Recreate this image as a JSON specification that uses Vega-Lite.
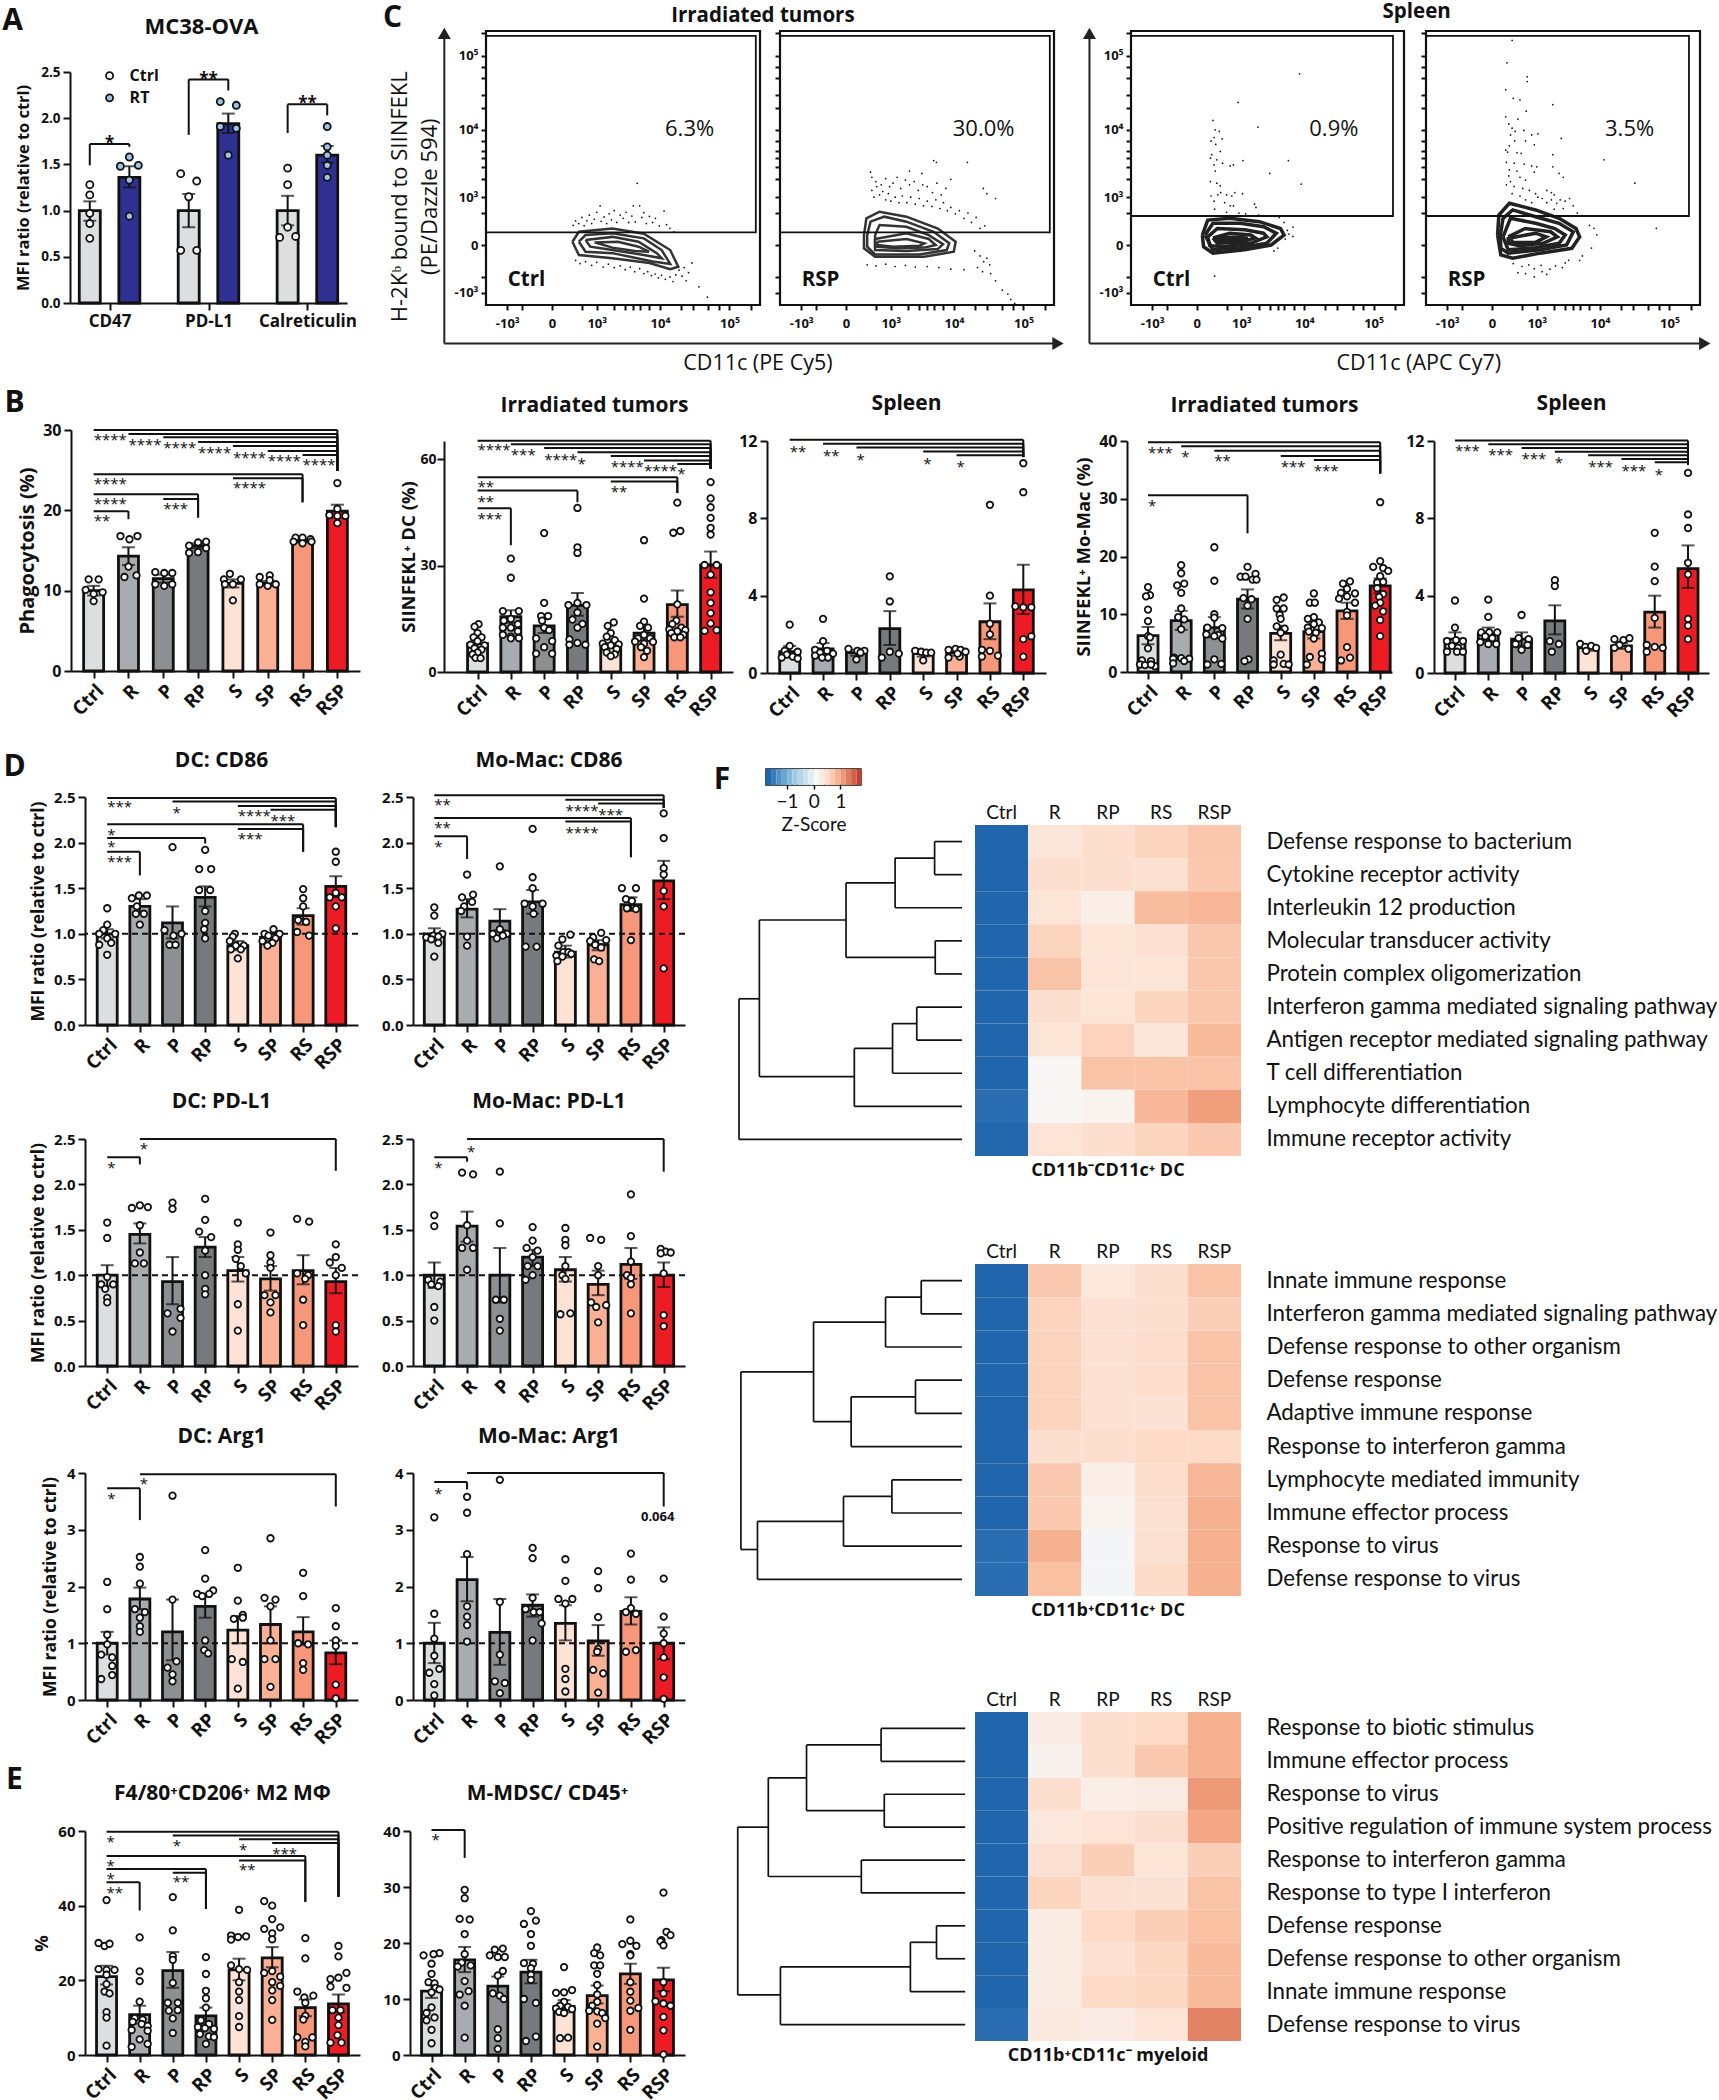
{"$schema":"https://vega.github.io/schema/vega-lite/v6.json","background":"white","padding":{"left":2,"top":0,"right":0,"bottom":0},"bounds":"flush","spacing":0,"resolve":{"scale":{"color":"independent","fill":"independent"}},
"config":{"view":{"stroke":null},"range":{"category":["#dcdee0","#8d8f93","#a8abaf","#77797c","#f6977a","#ed1c24","#fde3d5","#f9b094"]},"title":{"font":"Open Sans","fontWeight":"bold","fontSize":21,"color":"#111"},"text":{"font":"Open Sans","color":"#111"},"axis":{"grid":false,"domainColor":"#111","domainWidth":2,"tickColor":"#111","tickWidth":2,"tickSize":7,"labelFont":"Open Sans","labelFontWeight":"bold","labelFontSize":14,"labelColor":"#111","titleFont":"Open Sans","titleFontWeight":"bold","titleColor":"#111","labelOverlap":false,"labelBound":false,"labelFlush":false,"labelPadding":3},"axisX":{"labelAngle":-45,"labelFontSize":19},"axisY":{"titleBaseline":"middle"}},
"vconcat":[
{"bounds":"flush","spacing":0,"hconcat":[
{"bounds":"flush","spacing":0,"vconcat":[{"data":{"values":[{"t":"A"}]},"mark":{"type":"text","fontSize":30,"fontWeight":"bold","dx":-58,"dy":-31},"encoding":{"text":{"field":"t"}},"width":1,"height":41},
{"width":277,"height":231,"title":{"text":"MC38-OVA","offset":26,"dx":-7,"fontSize":22},"encoding":{"y":{"field":"v","type":"quantitative","scale":{"domain":[0,2.5],"nice":false},"axis":{"title":"MFI ratio (relative to ctrl)","titleX":-47,"titleFontSize":16.4,"labelFontSize":13.5,"format":".1f","values":[0,0.5,1,1.5,2,2.5]}}},"layer":[
{"data":{"values":[{"g":"CD47 Ctrl","s":"Ctrl","v":1,"lo":0.89,"hi":1.1},{"g":"CD47 RT","s":"RT","v":1.36,"lo":1.25,"hi":1.48},{"g":"PD-L1 Ctrl","s":"Ctrl","v":1,"lo":0.82,"hi":1.18},{"g":"PD-L1 RT","s":"RT","v":1.94,"lo":1.84,"hi":2.05},{"g":"Cal Ctrl","s":"Ctrl","v":1,"lo":0.84,"hi":1.16},{"g":"Cal RT","s":"RT","v":1.6,"lo":1.52,"hi":1.7}]},"encoding":{"x":{"field":"g","type":"nominal","scale":{"type":"point","padding":1.2,"domain":["CD47 Ctrl","CD47","CD47 RT","a1","a2","PD-L1 Ctrl","PD-L1","PD-L1 RT","a3","a4","Cal Ctrl","Calreticulin","Cal RT"]},"axis":{"title":null,"values":["CD47","PD-L1","Calreticulin"],"labelAngle":0,"labelFontSize":17}}},"layer":[
{"mark":{"type":"bar","size":21,"stroke":"#111","strokeWidth":2.8},"encoding":{"color":{"field":"s","type":"nominal","scale":{"domain":["Ctrl","RT"],"range":["#dcdee0","#2e3192"]},"legend":null}}},
{"mark":{"type":"rule","strokeWidth":2,"color":"#111"},"encoding":{"y":{"field":"lo","type":"quantitative"},"y2":{"field":"hi"}}},
{"mark":{"type":"tick","size":13,"thickness":2,"color":"#111"},"encoding":{"y":{"field":"hi","type":"quantitative"}}},
{"mark":{"type":"tick","size":13,"thickness":2,"color":"#111"},"encoding":{"y":{"field":"lo","type":"quantitative"}}}]},
{"data":{"values":[{"g":"CD47 Ctrl","s":"Ctrl","v":1.28,"j":0},{"g":"CD47 Ctrl","s":"Ctrl","v":1.17,"j":0},{"g":"CD47 Ctrl","s":"Ctrl","v":0.97,"j":0},{"g":"CD47 Ctrl","s":"Ctrl","v":0.86,"j":0},{"g":"CD47 Ctrl","s":"Ctrl","v":0.7,"j":0},{"g":"CD47 RT","s":"RT","v":1.58,"j":0},{"g":"CD47 RT","s":"RT","v":1.48,"j":-9},{"g":"CD47 RT","s":"RT","v":1.49,"j":9},{"g":"CD47 RT","s":"RT","v":1.33,"j":0},{"g":"CD47 RT","s":"RT","v":0.94,"j":0},{"g":"PD-L1 Ctrl","s":"Ctrl","v":1.4,"j":-8},{"g":"PD-L1 Ctrl","s":"Ctrl","v":1.32,"j":8},{"g":"PD-L1 Ctrl","s":"Ctrl","v":1.15,"j":0},{"g":"PD-L1 Ctrl","s":"Ctrl","v":0.57,"j":-8},{"g":"PD-L1 Ctrl","s":"Ctrl","v":0.57,"j":8},{"g":"PD-L1 RT","s":"RT","v":2.18,"j":-8},{"g":"PD-L1 RT","s":"RT","v":2.14,"j":8},{"g":"PD-L1 RT","s":"RT","v":1.91,"j":-8},{"g":"PD-L1 RT","s":"RT","v":1.89,"j":8},{"g":"PD-L1 RT","s":"RT","v":1.6,"j":0},{"g":"Cal Ctrl","s":"Ctrl","v":1.46,"j":0},{"g":"Cal Ctrl","s":"Ctrl","v":1.28,"j":0},{"g":"Cal Ctrl","s":"Ctrl","v":0.82,"j":0},{"g":"Cal Ctrl","s":"Ctrl","v":0.71,"j":-8},{"g":"Cal Ctrl","s":"Ctrl","v":0.72,"j":8},{"g":"Cal RT","s":"RT","v":1.91,"j":0},{"g":"Cal RT","s":"RT","v":1.69,"j":0},{"g":"Cal RT","s":"RT","v":1.6,"j":0},{"g":"Cal RT","s":"RT","v":1.49,"j":0},{"g":"Cal RT","s":"RT","v":1.36,"j":0}]},"mark":{"type":"point","filled":true,"stroke":"#111","strokeWidth":1.8,"size":50,"opacity":1},"encoding":{"x":{"field":"g","type":"nominal"},"xOffset":{"field":"j","type":"quantitative","scale":null},"fill":{"field":"s","type":"nominal","scale":{"domain":["Ctrl","RT"],"range":["#ffffff","#9dc3e6"]},"legend":null}}},
{"data":{"values":[{"a":"CD47 Ctrl","b":"CD47 RT","c":"CD47","y":1.72,"l":1.49,"r":1.69,"t":"*","ty":1.74},{"a":"PD-L1 Ctrl","b":"PD-L1 RT","c":"PD-L1","y":2.42,"l":1.82,"r":2.3,"t":"**","ty":2.44},{"a":"Cal Ctrl","b":"Cal RT","c":"Calreticulin","y":2.15,"l":1.84,"r":2.03,"t":"**","ty":2.17}]},"layer":[
{"mark":{"type":"rule","strokeWidth":2,"color":"#111"},"encoding":{"x":{"field":"a","type":"nominal"},"x2":{"field":"b"},"y":{"field":"y","type":"quantitative"}}},
{"mark":{"type":"rule","strokeWidth":2,"color":"#111"},"encoding":{"x":{"field":"a","type":"nominal"},"y":{"field":"y","type":"quantitative"},"y2":{"field":"l"}}},
{"mark":{"type":"rule","strokeWidth":2,"color":"#111"},"encoding":{"x":{"field":"b","type":"nominal"},"y":{"field":"y","type":"quantitative"},"y2":{"field":"r"}}},
{"mark":{"type":"text","fontSize":17,"fontWeight":"bold","dy":2},"encoding":{"x":{"field":"c","type":"nominal"},"y":{"field":"ty","type":"quantitative"},"text":{"field":"t"}}}]},
{"data":{"values":[{"s":"Ctrl","v":2.46,"c":"CD47"},{"s":"RT","v":2.22,"c":"CD47"}]},"layer":[
{"mark":{"type":"point","filled":true,"stroke":"#111","strokeWidth":1.8,"size":50,"opacity":1},"encoding":{"x":{"field":"c","type":"nominal"},"fill":{"field":"s","type":"nominal","legend":null}}},
{"mark":{"type":"text","align":"left","fontSize":16,"fontWeight":"bold","dx":20},"encoding":{"x":{"field":"c","type":"nominal"},"text":{"field":"s"}}}]}
]}]},
{"data":{"values":[]},"mark":{"type":"point","opacity":0},"width":416,"height":1},
{"width":274,"height":274,"view":{"stroke":"#111","strokeWidth":2.2},"encoding":{"x":{"field":"x","type":"quantitative","scale":{"type":"symlog","constant":300,"domain":[-2310,273000],"nice":false},"axis":{"title":null,"domain":false,"labelAngle":0,"labelFontSize":13,"tickSize":5,"labelPadding":7,"values":[-1000,-500,0,500,1000,2000,3000,4000,5000,7000,10000,20000,30000,50000,70000,100000,200000],"labelExpr":"datum.value==1000?'10³':datum.value==10000?'10⁴':datum.value==100000?'10⁵':datum.value==-1000?'-10³':datum.value==0?'0':''"}},"y":{"field":"y","type":"quantitative","scale":{"type":"symlog","constant":300,"domain":[-1590,213000],"nice":false},"axis":{"title":null,"domain":false,"labelFontSize":13,"tickSize":5,"values":[-1000,-500,0,500,1000,2000,3000,4000,5000,7000,10000,20000,30000,50000,70000,100000,200000],"labelExpr":"datum.value==1000?'10³':datum.value==10000?'10⁴':datum.value==100000?'10⁵':datum.value==-1000?'-10³':datum.value==0?'0':''"}}},"layer":[
{"data":{"values":[{"x":-9930,"y":-5850,"x2":-9930,"y2":198000},{"x":-9930,"y":-5850,"x2":4750000000,"y2":-5850}]},"mark":{"type":"rule","strokeWidth":2,"color":"#222"},"encoding":{"x2":{"field":"x2"},"y2":{"field":"y2"}}},
{"data":{"values":[{"x":-9930,"y":198000}]},"mark":{"type":"point","shape":"triangle-up","filled":true,"size":170,"color":"#222","opacity":1}},
{"data":{"values":[{"x":4750000000,"y":-5850}]},"mark":{"type":"point","shape":"triangle-right","filled":true,"size":170,"color":"#222","opacity":1}},
{"data":{"values":[{"c":1,"x":285,"y":32},{"c":1,"x":423,"y":150},{"c":1,"x":1870,"y":198},{"c":1,"x":5770,"y":125},{"c":1,"x":14100,"y":-50},{"c":1,"x":18500,"y":-285},{"c":1,"x":14100,"y":-330},{"c":1,"x":7000,"y":-220},{"c":1,"x":1870,"y":-150},{"c":1,"x":423,"y":-107},{"c":1,"x":285,"y":32},{"c":2,"x":423,"y":32},{"c":2,"x":600,"y":107},{"c":2,"x":1870,"y":131},{"c":2,"x":5770,"y":68},{"c":2,"x":10600,"y":-50},{"c":2,"x":14100,"y":-235},{"c":2,"x":7840,"y":-198},{"c":2,"x":1870,"y":-85},{"c":2,"x":600,"y":-68},{"c":2,"x":423,"y":32},{"c":3,"x":600,"y":50},{"c":3,"x":1870,"y":85},{"c":3,"x":4800,"y":32},{"c":3,"x":9000,"y":-85},{"c":3,"x":10600,"y":-150},{"c":3,"x":5770,"y":-107},{"c":3,"x":1870,"y":-50},{"c":3,"x":750,"y":-16},{"c":3,"x":600,"y":50},{"c":4,"x":909,"y":25},{"c":4,"x":2300,"y":32},{"c":4,"x":4800,"y":-16},{"c":4,"x":6900,"y":-68},{"c":4,"x":4220,"y":-60},{"c":4,"x":1870,"y":-25},{"c":4,"x":909,"y":25}]},"transform":[{"window":[{"op":"row_number","as":"i"}]}],"mark":{"type":"line","color":"#333","strokeWidth":2.5},"encoding":{"detail":{"field":"c"},"order":{"field":"i","type":"quantitative"}}},
{"data":{"values":[{"x":300,"y":250},{"x":350,"y":330},{"x":420,"y":280},{"x":500,"y":400},{"x":560,"y":240},{"x":640,"y":330},{"x":720,"y":450},{"x":800,"y":280},{"x":900,"y":360},{"x":1000,"y":520},{"x":1150,"y":700},{"x":1200,"y":320},{"x":1350,"y":410},{"x":1500,"y":280},{"x":1650,"y":480},{"x":1800,"y":350},{"x":2000,"y":560},{"x":2200,"y":300},{"x":2500,"y":453},{"x":2800,"y":380},{"x":3100,"y":520},{"x":3400,"y":300},{"x":3800,"y":430},{"x":4000,"y":700},{"x":4300,"y":310},{"x":4600,"y":1690},{"x":5000,"y":700},{"x":5400,"y":400},{"x":5770,"y":510},{"x":6300,"y":280},{"x":7000,"y":420},{"x":7800,"y":300},{"x":8600,"y":380},{"x":9800,"y":240},{"x":11500,"y":550},{"x":12500,"y":260},{"x":14000,"y":200},{"x":16000,"y":150},{"x":350,"y":-180},{"x":450,"y":-230},{"x":600,"y":-200},{"x":800,"y":-260},{"x":1000,"y":-210},{"x":1300,"y":-290},{"x":1600,"y":-240},{"x":2000,"y":-300},{"x":2500,"y":-270},{"x":3000,"y":-340},{"x":3600,"y":-290},{"x":4200,"y":-380},{"x":5000,"y":-320},{"x":5800,"y":-420},{"x":6600,"y":-380},{"x":7500,"y":-470},{"x":8500,"y":-430},{"x":9500,"y":-520},{"x":10500,"y":-460},{"x":12000,"y":-560},{"x":14000,"y":-500},{"x":15500,"y":-620},{"x":17000,"y":-450},{"x":19000,"y":-350},{"x":21000,"y":-480},{"x":22500,"y":-300},{"x":24000,"y":-600},{"x":26000,"y":-400},{"x":29000,"y":-220},{"x":36700,"y":-780},{"x":48500,"y":-1180},{"x":55000,"y":-1590}]},"mark":{"type":"point","filled":true,"size":3,"color":"#111","opacity":1}},
{"data":{"values":[{"x":-2310,"x2":238000,"y":142,"y2":183000}]},"mark":{"type":"rect","filled":false,"stroke":"#111","strokeWidth":1.8},"encoding":{"x2":{"field":"x2"},"y2":{"field":"y2"}}},
{"data":{"values":[{"x":26900,"y":10350,"t":"6.3%"}]},"mark":{"type":"text","fontSize":22},"encoding":{"text":{"field":"t"}}},
{"data":{"values":[{"x":-980,"y":-565,"t":"Ctrl"}]},"mark":{"type":"text","fontSize":20.5,"fontWeight":"bold","align":"left"},"encoding":{"text":{"field":"t"}}},
{"data":{"values":[{"x":300000,"y":342000,"t":"Irradiated tumors"}]},"mark":{"type":"text","fontSize":20.5,"fontWeight":"bold"},"encoding":{"text":{"field":"t"}}},
{"data":{"values":[{"x":255000,"y":-11100,"t":"CD11c (PE Cy5)"}]},"mark":{"type":"text","fontSize":21.5},"encoding":{"text":{"field":"t"}}},
{"data":{"values":[{"x":-44000,"y":1020,"t":"H-2Kᵇ bound to SIINFEKL"},{"x":-16200,"y":1020,"t":"(PE/Dazzle 594)"}]},"mark":{"type":"text","fontSize":22,"angle":270},"encoding":{"text":{"field":"t"}}},
{"data":{"values":[{"x":-55500,"y":314000,"t":"C"}]},"mark":{"type":"text","fontSize":30,"fontWeight":"bold"},"encoding":{"text":{"field":"t"}}}
]},
{"data":{"values":[]},"mark":{"type":"point","opacity":0},"width":20,"height":1},
{"width":274,"height":274,"view":{"stroke":"#111","strokeWidth":2.2},"encoding":{"x":{"field":"x","type":"quantitative","scale":{"type":"symlog","constant":300,"domain":[-2310,273000],"nice":false},"axis":{"title":null,"domain":false,"labelAngle":0,"labelFontSize":13,"tickSize":5,"labelPadding":7,"values":[-1000,-500,0,500,1000,2000,3000,4000,5000,7000,10000,20000,30000,50000,70000,100000,200000],"labelExpr":"datum.value==1000?'10³':datum.value==10000?'10⁴':datum.value==100000?'10⁵':datum.value==-1000?'-10³':datum.value==0?'0':''"}},"y":{"field":"y","type":"quantitative","scale":{"type":"symlog","constant":300,"domain":[-1590,213000],"nice":false},"axis":{"title":null,"domain":false,"labels":false,"tickSize":5,"values":[-1000,-500,0,500,1000,2000,3000,4000,5000,7000,10000,20000,30000,50000,70000,100000,200000]}}},"layer":[
{"data":{"values":[{"c":1,"x":240,"y":107},{"c":1,"x":285,"y":380},{"c":1,"x":600,"y":533},{"c":1,"x":1870,"y":416},{"c":1,"x":5770,"y":198},{"c":1,"x":10600,"y":32},{"c":1,"x":9950,"y":-68},{"c":1,"x":3600,"y":-131},{"c":1,"x":477,"y":-131},{"c":1,"x":240,"y":-32},{"c":1,"x":240,"y":107},{"c":2,"x":300,"y":107},{"c":2,"x":370,"y":314},{"c":2,"x":750,"y":416},{"c":2,"x":1870,"y":314},{"c":2,"x":5000,"y":150},{"c":2,"x":8500,"y":16},{"c":2,"x":7840,"y":-50},{"c":2,"x":3040,"y":-100},{"c":2,"x":477,"y":-100},{"c":2,"x":300,"y":-16},{"c":2,"x":300,"y":107},{"c":3,"x":477,"y":107},{"c":3,"x":600,"y":255},{"c":3,"x":1870,"y":225},{"c":3,"x":4220,"y":107},{"c":3,"x":6900,"y":8},{"c":3,"x":5770,"y":-40},{"c":3,"x":1870,"y":-60},{"c":3,"x":477,"y":-50},{"c":3,"x":477,"y":107},{"c":4,"x":477,"y":61},{"c":4,"x":1870,"y":131},{"c":4,"x":4220,"y":61},{"c":4,"x":5350,"y":0},{"c":4,"x":3600,"y":-25},{"c":4,"x":1300,"y":-32},{"c":4,"x":477,"y":-16},{"c":4,"x":477,"y":61},{"c":5,"x":537,"y":32},{"c":5,"x":1870,"y":61},{"c":5,"x":3600,"y":16},{"c":5,"x":3040,"y":-6},{"c":5,"x":1100,"y":-16},{"c":5,"x":537,"y":0},{"c":5,"x":537,"y":32}]},"transform":[{"window":[{"op":"row_number","as":"i"}]}],"mark":{"type":"line","color":"#333","strokeWidth":2.5},"encoding":{"detail":{"field":"c"},"order":{"field":"i","type":"quantitative"}}},
{"data":{"values":[{"x":370,"y":2500},{"x":2100,"y":2600},{"x":3300,"y":2400},{"x":5000,"y":3700},{"x":5500,"y":3500},{"x":15700,"y":3500},{"x":9000,"y":1950},{"x":26700,"y":1400},{"x":30000,"y":1150},{"x":40000,"y":950},{"x":400,"y":2100},{"x":500,"y":1800},{"x":650,"y":1600},{"x":800,"y":2000},{"x":950,"y":1500},{"x":1100,"y":1700},{"x":1300,"y":2100},{"x":1500,"y":1400},{"x":1800,"y":1900},{"x":2100,"y":1600},{"x":2500,"y":1800},{"x":2900,"y":1300},{"x":3400,"y":1600},{"x":4000,"y":1500},{"x":4800,"y":1200},{"x":5600,"y":1700},{"x":6500,"y":1100},{"x":7600,"y":1400},{"x":400,"y":1300},{"x":450,"y":1000},{"x":520,"y":1500},{"x":600,"y":1100},{"x":700,"y":1250},{"x":800,"y":900},{"x":900,"y":1150},{"x":1000,"y":850},{"x":1200,"y":1000},{"x":1400,"y":800},{"x":1600,"y":1050},{"x":1900,"y":800},{"x":2200,"y":1000},{"x":2600,"y":750},{"x":3000,"y":950},{"x":3500,"y":700},{"x":4000,"y":850},{"x":4700,"y":680},{"x":5400,"y":900},{"x":6200,"y":620},{"x":7000,"y":800},{"x":8000,"y":560},{"x":9000,"y":650},{"x":10500,"y":480},{"x":12000,"y":560},{"x":14000,"y":380},{"x":16000,"y":500},{"x":18000,"y":300},{"x":21000,"y":400},{"x":24000,"y":200},{"x":28000,"y":240},{"x":20000,"y":-60},{"x":24000,"y":-120},{"x":27000,"y":-200},{"x":22000,"y":-300},{"x":30000,"y":-150},{"x":33000,"y":-250},{"x":26000,"y":-380},{"x":34000,"y":-420},{"x":40000,"y":-600},{"x":50000,"y":-900},{"x":60000,"y":-1050},{"x":66000,"y":-1300},{"x":75000,"y":-1500},{"x":300,"y":-250},{"x":500,"y":-270},{"x":800,"y":-240},{"x":1200,"y":-280},{"x":1800,"y":-260},{"x":2600,"y":-290},{"x":4000,"y":-280},{"x":6000,"y":-300},{"x":9000,"y":-330},{"x":14000,"y":-340}]},"mark":{"type":"point","filled":true,"size":3,"color":"#111","opacity":1}},
{"data":{"values":[{"x":-2310,"x2":238000,"y":142,"y2":183000}]},"mark":{"type":"rect","filled":false,"stroke":"#111","strokeWidth":1.8},"encoding":{"x2":{"field":"x2"},"y2":{"field":"y2"}}},
{"data":{"values":[{"x":26900,"y":10350,"t":"30.0%"}]},"mark":{"type":"text","fontSize":22},"encoding":{"text":{"field":"t"}}},
{"data":{"values":[{"x":-980,"y":-565,"t":"RSP"}]},"mark":{"type":"text","fontSize":20.5,"fontWeight":"bold","align":"left"},"encoding":{"text":{"field":"t"}}}
]},
{"data":{"values":[]},"mark":{"type":"point","opacity":0},"width":77,"height":1},
{"width":273,"height":274,"view":{"stroke":"#111","strokeWidth":2.2},"encoding":{"x":{"field":"x","type":"quantitative","scale":{"type":"symlog","constant":300,"domain":[-2310,273000],"nice":false},"axis":{"title":null,"domain":false,"labelAngle":0,"labelFontSize":13,"tickSize":5,"labelPadding":7,"values":[-1000,-500,0,500,1000,2000,3000,4000,5000,7000,10000,20000,30000,50000,70000,100000,200000],"labelExpr":"datum.value==1000?'10³':datum.value==10000?'10⁴':datum.value==100000?'10⁵':datum.value==-1000?'-10³':datum.value==0?'0':''"}},"y":{"field":"y","type":"quantitative","scale":{"type":"symlog","constant":300,"domain":[-1590,213000],"nice":false},"axis":{"title":null,"domain":false,"labelFontSize":13,"tickSize":5,"values":[-1000,-500,0,500,1000,2000,3000,4000,5000,7000,10000,20000,30000,50000,70000,100000,200000],"labelExpr":"datum.value==1000?'10³':datum.value==10000?'10⁴':datum.value==100000?'10⁵':datum.value==-1000?'-10³':datum.value==0?'0':''"}}},"layer":[
{"data":{"values":[{"x":-9930,"y":-5850,"x2":-9930,"y2":198000},{"x":-9930,"y":-5850,"x2":5400000000,"y2":-5850}]},"mark":{"type":"rule","strokeWidth":2,"color":"#222"},"encoding":{"x2":{"field":"x2"},"y2":{"field":"y2"}}},
{"data":{"values":[{"x":-9930,"y":198000}]},"mark":{"type":"point","shape":"triangle-up","filled":true,"size":170,"color":"#222","opacity":1}},
{"data":{"values":[{"x":5400000000,"y":-5850}]},"mark":{"type":"point","shape":"triangle-right","filled":true,"size":170,"color":"#222","opacity":1}},
{"data":{"values":[{"c":1,"x":60,"y":107},{"c":1,"x":130,"y":345},{"c":1,"x":590,"y":380},{"c":1,"x":2050,"y":314},{"c":1,"x":4400,"y":198},{"c":1,"x":5000,"y":107},{"c":1,"x":3150,"y":0},{"c":1,"x":1150,"y":-48},{"c":1,"x":210,"y":-85},{"c":1,"x":75,"y":-16},{"c":1,"x":60,"y":107},{"c":2,"x":95,"y":107},{"c":2,"x":210,"y":285},{"c":2,"x":950,"y":285},{"c":2,"x":2400,"y":225},{"c":2,"x":3800,"y":131},{"c":2,"x":2700,"y":16},{"c":2,"x":950,"y":-25},{"c":2,"x":210,"y":-48},{"c":2,"x":95,"y":107},{"c":3,"x":130,"y":85},{"c":3,"x":290,"y":198},{"c":3,"x":1150,"y":178},{"c":3,"x":2400,"y":131},{"c":3,"x":2700,"y":85},{"c":3,"x":1470,"y":16},{"c":3,"x":450,"y":-16},{"c":3,"x":160,"y":-6},{"c":3,"x":130,"y":85},{"c":4,"x":210,"y":73},{"c":4,"x":590,"y":131},{"c":4,"x":1470,"y":107},{"c":4,"x":1750,"y":73},{"c":4,"x":950,"y":25},{"c":4,"x":290,"y":16},{"c":4,"x":210,"y":73},{"c":5,"x":250,"y":73},{"c":5,"x":950,"y":85},{"c":5,"x":1300,"y":68},{"c":5,"x":590,"y":40},{"c":5,"x":290,"y":40},{"c":5,"x":250,"y":73}]},"transform":[{"window":[{"op":"row_number","as":"i"}]}],"mark":{"type":"line","color":"#222","strokeWidth":3.5},"encoding":{"detail":{"field":"c"},"order":{"field":"i","type":"quantitative"}}},
{"data":{"values":[{"x":8500,"y":57000},{"x":870,"y":23500},{"x":1950,"y":10900},{"x":210,"y":13400},{"x":250,"y":10000},{"x":330,"y":9500},{"x":230,"y":7800},{"x":390,"y":7500},{"x":180,"y":7000},{"x":260,"y":6300},{"x":350,"y":5000},{"x":190,"y":4500},{"x":170,"y":4000},{"x":280,"y":3800},{"x":230,"y":3200},{"x":1070,"y":3700},{"x":5800,"y":3700},{"x":400,"y":3400},{"x":600,"y":3100},{"x":700,"y":3200},{"x":3000,"y":2400},{"x":9000,"y":1650},{"x":250,"y":2600},{"x":170,"y":1800},{"x":280,"y":1700},{"x":350,"y":1550},{"x":180,"y":1050},{"x":300,"y":1100},{"x":360,"y":1200},{"x":500,"y":1100},{"x":650,"y":1050},{"x":750,"y":1200},{"x":1050,"y":1150},{"x":450,"y":800},{"x":230,"y":850},{"x":600,"y":700},{"x":700,"y":700},{"x":1700,"y":750},{"x":1800,"y":650},{"x":240,"y":600},{"x":500,"y":520},{"x":900,"y":500},{"x":1200,"y":480},{"x":2000,"y":450},{"x":3600,"y":420},{"x":4200,"y":400},{"x":5000,"y":300},{"x":4700,"y":170},{"x":5600,"y":170},{"x":6800,"y":220},{"x":5900,"y":120},{"x":6800,"y":90},{"x":5200,"y":60},{"x":4000,"y":-30},{"x":3500,"y":-60},{"x":240,"y":-480}]},"mark":{"type":"point","filled":true,"size":3,"color":"#111","opacity":1}},
{"data":{"values":[{"x":-2310,"x2":190000,"y":431,"y2":183000}]},"mark":{"type":"rect","filled":false,"stroke":"#111","strokeWidth":1.8},"encoding":{"x2":{"field":"x2"},"y2":{"field":"y2"}}},
{"data":{"values":[{"x":26900,"y":10350,"t":"0.9%"}]},"mark":{"type":"text","fontSize":22},"encoding":{"text":{"field":"t"}}},
{"data":{"values":[{"x":-980,"y":-565,"t":"Ctrl"}]},"mark":{"type":"text","fontSize":20.5,"fontWeight":"bold","align":"left"},"encoding":{"text":{"field":"t"}}},
{"data":{"values":[{"x":414000,"y":386000,"t":"Spleen"}]},"mark":{"type":"text","fontSize":20.5,"fontWeight":"bold"},"encoding":{"text":{"field":"t"}}},
{"data":{"values":[{"x":444000,"y":-11100,"t":"CD11c (APC Cy7)"}]},"mark":{"type":"text","fontSize":21.5},"encoding":{"text":{"field":"t"}}}
]},
{"data":{"values":[]},"mark":{"type":"point","opacity":0},"width":22,"height":1},
{"width":274,"height":274,"view":{"stroke":"#111","strokeWidth":2.2},"encoding":{"x":{"field":"x","type":"quantitative","scale":{"type":"symlog","constant":300,"domain":[-2310,273000],"nice":false},"axis":{"title":null,"domain":false,"labelAngle":0,"labelFontSize":13,"tickSize":5,"labelPadding":7,"values":[-1000,-500,0,500,1000,2000,3000,4000,5000,7000,10000,20000,30000,50000,70000,100000,200000],"labelExpr":"datum.value==1000?'10³':datum.value==10000?'10⁴':datum.value==100000?'10⁵':datum.value==-1000?'-10³':datum.value==0?'0':''"}},"y":{"field":"y","type":"quantitative","scale":{"type":"symlog","constant":300,"domain":[-1590,213000],"nice":false},"axis":{"title":null,"domain":false,"labels":false,"tickSize":5,"values":[-1000,-500,0,500,1000,2000,3000,4000,5000,7000,10000,20000,30000,50000,70000,100000,200000]}}},"layer":[
{"data":{"values":[{"c":1,"x":60,"y":107},{"c":1,"x":75,"y":453},{"c":1,"x":230,"y":780},{"c":1,"x":950,"y":580},{"c":1,"x":2400,"y":380},{"c":1,"x":4400,"y":198},{"c":1,"x":5000,"y":85},{"c":1,"x":3800,"y":-32},{"c":1,"x":1150,"y":-85},{"c":1,"x":290,"y":-150},{"c":1,"x":100,"y":-107},{"c":1,"x":60,"y":107},{"c":2,"x":95,"y":107},{"c":2,"x":130,"y":380},{"c":2,"x":290,"y":580},{"c":2,"x":950,"y":415},{"c":2,"x":2400,"y":285},{"c":2,"x":4000,"y":150},{"c":2,"x":3150,"y":0},{"c":2,"x":1150,"y":-48},{"c":2,"x":210,"y":-85},{"c":2,"x":100,"y":-32},{"c":2,"x":95,"y":107},{"c":3,"x":130,"y":85},{"c":3,"x":250,"y":380},{"c":3,"x":950,"y":285},{"c":3,"x":2050,"y":198},{"c":3,"x":3000,"y":107},{"c":3,"x":2400,"y":16},{"c":3,"x":950,"y":-25},{"c":3,"x":210,"y":-48},{"c":3,"x":130,"y":85},{"c":4,"x":210,"y":85},{"c":4,"x":590,"y":198},{"c":4,"x":1750,"y":150},{"c":4,"x":2250,"y":85},{"c":4,"x":1300,"y":16},{"c":4,"x":450,"y":-6},{"c":4,"x":210,"y":16},{"c":4,"x":210,"y":85},{"c":5,"x":250,"y":73},{"c":5,"x":950,"y":131},{"c":5,"x":1470,"y":85},{"c":5,"x":950,"y":25},{"c":5,"x":290,"y":25},{"c":5,"x":250,"y":73}]},"transform":[{"window":[{"op":"row_number","as":"i"}]}],"mark":{"type":"line","color":"#222","strokeWidth":3.5},"encoding":{"detail":{"field":"c"},"order":{"field":"i","type":"quantitative"}}},
{"data":{"values":[{"x":280,"y":160000},{"x":190,"y":80000},{"x":650,"y":52000},{"x":650,"y":45000},{"x":170,"y":35000},{"x":300,"y":26700},{"x":450,"y":25500},{"x":1900,"y":21900},{"x":620,"y":17900},{"x":170,"y":15000},{"x":400,"y":14000},{"x":220,"y":12000},{"x":280,"y":10500},{"x":340,"y":9500},{"x":550,"y":9800},{"x":250,"y":8500},{"x":800,"y":8500},{"x":1050,"y":8800},{"x":2600,"y":7600},{"x":330,"y":7000},{"x":600,"y":7000},{"x":230,"y":6000},{"x":900,"y":6200},{"x":170,"y":5200},{"x":200,"y":4900},{"x":380,"y":4800},{"x":480,"y":4700},{"x":1900,"y":4500},{"x":11500,"y":3800},{"x":180,"y":3500},{"x":320,"y":3400},{"x":560,"y":3300},{"x":800,"y":3100},{"x":1000,"y":3000},{"x":1900,"y":3000},{"x":230,"y":2700},{"x":380,"y":2600},{"x":2400,"y":2400},{"x":900,"y":2500},{"x":220,"y":2200},{"x":450,"y":2100},{"x":600,"y":1900},{"x":2800,"y":2100},{"x":32000,"y":1700},{"x":250,"y":1800},{"x":180,"y":1600},{"x":320,"y":1500},{"x":520,"y":1400},{"x":720,"y":1300},{"x":950,"y":1150},{"x":1500,"y":1300},{"x":1800,"y":1200},{"x":2000,"y":1100},{"x":280,"y":1150},{"x":450,"y":1050},{"x":600,"y":900},{"x":800,"y":800},{"x":1050,"y":1000},{"x":1250,"y":950},{"x":1500,"y":800},{"x":1800,"y":900},{"x":2200,"y":780},{"x":2500,"y":900},{"x":3000,"y":850},{"x":3500,"y":950},{"x":4000,"y":700},{"x":4600,"y":500},{"x":5500,"y":440},{"x":2800,"y":620},{"x":2000,"y":600},{"x":7000,"y":250},{"x":8200,"y":200},{"x":9000,"y":110},{"x":7500,"y":-30},{"x":5500,"y":-120},{"x":5000,"y":-180},{"x":65000,"y":200},{"x":300,"y":-230},{"x":500,"y":-280},{"x":700,"y":-250},{"x":900,"y":-320},{"x":1200,"y":-260},{"x":1700,"y":-330},{"x":2100,"y":-270},{"x":2700,"y":-300},{"x":400,"y":-400},{"x":600,"y":-420},{"x":900,"y":-500},{"x":1250,"y":-380},{"x":1500,"y":-440},{"x":3000,"y":-220},{"x":3400,"y":-180}]},"mark":{"type":"point","filled":true,"size":3,"color":"#111","opacity":1}},
{"data":{"values":[{"x":-2310,"x2":190000,"y":431,"y2":183000}]},"mark":{"type":"rect","filled":false,"stroke":"#111","strokeWidth":1.8},"encoding":{"x2":{"field":"x2"},"y2":{"field":"y2"}}},
{"data":{"values":[{"x":26900,"y":10350,"t":"3.5%"}]},"mark":{"type":"text","fontSize":22},"encoding":{"text":{"field":"t"}}},
{"data":{"values":[{"x":-980,"y":-565,"t":"RSP"}]},"mark":{"type":"text","fontSize":20.5,"fontWeight":"bold","align":"left"},"encoding":{"text":{"field":"t"}}}
]}
]},
{"data":{"values":[]},"mark":{"type":"point","opacity":0},"width":1,"height":399},
{"bounds":"flush","spacing":0,"hconcat":[
{"data":{"values":[{"t":"B"}]},"mark":{"type":"text","fontSize":30,"fontWeight":"bold","dx":-56,"dy":-28},"encoding":{"text":{"field":"t"}},"width":1,"height":1},
{"width":289,"height":241,"encoding":{"y":{"field":"v","type":"quantitative","scale":{"domain":[0,30],"nice":false},"axis":{"title":"Phagocytosis (%)","titleX":-44,"titleFontSize":20,"labelFontSize":16,"values":[0,10,20,30]}}},"layer":[
{"data":{"values":[{"g":"Ctrl","v":10,"lo":9.4,"hi":10.6},{"g":"R","v":14.3,"lo":13.2,"hi":15.4},{"g":"P","v":11.5,"lo":11,"hi":12},{"g":"RP","v":15.6,"lo":15.3,"hi":15.9},{"g":"S","v":10.9,"lo":10.4,"hi":11.4},{"g":"SP","v":10.9,"lo":10.6,"hi":11.2},{"g":"RS","v":16.2,"lo":16,"hi":16.4},{"g":"RSP","v":19.9,"lo":19.1,"hi":20.7}]},"encoding":{"x":{"field":"g","type":"nominal","scale":{"type":"point","padding":0.65,"domain":["Ctrl","R","P","RP","S","SP","RS","RSP"]},"axis":{"title":null}}},"layer":[
{"mark":{"type":"bar","size":20,"stroke":"#111","strokeWidth":2.8},"encoding":{"color":{"field":"g","type":"nominal","legend":null}}},
{"mark":{"type":"rule","strokeWidth":2,"color":"#111"},"encoding":{"y":{"field":"lo","type":"quantitative"},"y2":{"field":"hi"}}},
{"mark":{"type":"tick","size":13,"thickness":2,"color":"#111"},"encoding":{"y":{"field":"hi","type":"quantitative"}}},
{"mark":{"type":"tick","size":13,"thickness":2,"color":"#111"},"encoding":{"y":{"field":"lo","type":"quantitative"}}}]},
{"data":{"values":[{"g":"Ctrl","v":11.4,"j":-5},{"g":"Ctrl","v":11.4,"j":5},{"g":"Ctrl","v":10.1,"j":-8},{"g":"Ctrl","v":9.8,"j":9},{"g":"Ctrl","v":9.6,"j":0},{"g":"Ctrl","v":8.7,"j":0},{"g":"R","v":16.8,"j":-8},{"g":"R","v":16.4,"j":1},{"g":"R","v":16.8,"j":9},{"g":"R","v":13,"j":0},{"g":"R","v":11.9,"j":8},{"g":"R","v":11.7,"j":-4},{"g":"P","v":12.3,"j":-8},{"g":"P","v":12.2,"j":1},{"g":"P","v":12.2,"j":9},{"g":"P","v":10.8,"j":-8},{"g":"P","v":10.6,"j":1},{"g":"P","v":10.8,"j":9},{"g":"RP","v":15.6,"j":-9},{"g":"RP","v":16,"j":0},{"g":"RP","v":16.1,"j":8},{"g":"RP","v":14.7,"j":-9},{"g":"RP","v":14.8,"j":0},{"g":"RP","v":15.3,"j":8},{"g":"S","v":12.1,"j":-3},{"g":"S","v":11.4,"j":-9},{"g":"S","v":11.4,"j":8},{"g":"S","v":10.8,"j":0},{"g":"S","v":10.8,"j":-8},{"g":"S","v":8.8,"j":0},{"g":"SP","v":11.7,"j":-8},{"g":"SP","v":11.9,"j":2},{"g":"SP","v":10.8,"j":-8},{"g":"SP","v":10.6,"j":0},{"g":"SP","v":10.8,"j":8},{"g":"SP","v":11.3,"j":2},{"g":"RS","v":16.6,"j":-7},{"g":"RS","v":16.6,"j":0},{"g":"RS","v":16.4,"j":8},{"g":"RS","v":16.1,"j":-9},{"g":"RS","v":15.9,"j":0},{"g":"RS","v":16.1,"j":9},{"g":"RSP","v":23.4,"j":0},{"g":"RSP","v":20.2,"j":0},{"g":"RSP","v":19.4,"j":-8},{"g":"RSP","v":19.3,"j":8},{"g":"RSP","v":19.3,"j":0},{"g":"RSP","v":18.4,"j":0}]},"mark":{"type":"point","filled":true,"fill":"#fff","stroke":"#111","strokeWidth":1.8,"size":42,"opacity":1},"encoding":{"x":{"field":"g","type":"nominal"},"xOffset":{"field":"j","type":"quantitative","scale":null}}},
{"data":{"values":[{"a":"Ctrl","b":"RSP","y":30,"d":24.9,"t":"****","ty":29.1},{"a":"R","b":"RSP","y":29.5,"d":24.9,"t":"****","ty":28.5},{"a":"P","b":"RSP","y":29.1,"d":24.9,"t":"****","ty":28.1},{"a":"RP","b":"RSP","y":28.5,"d":24.9,"t":"****","ty":27.5},{"a":"S","b":"RSP","y":28,"d":24.9,"t":"****","ty":26.9},{"a":"SP","b":"RSP","y":27.4,"d":24.9,"t":"****","ty":26.5},{"a":"RS","b":"RSP","y":26.9,"d":24.9,"t":"****","ty":26},{"a":"Ctrl","b":"RS","y":24.5,"d":21,"t":"****","ty":23.6},{"a":"S","b":"RS","y":24,"d":21,"t":"****","ty":23.1},{"a":"Ctrl","b":"RP","y":22,"d":19.1,"t":"****","ty":21.1},{"a":"P","b":"RP","y":21.4,"d":19.1,"t":"***","ty":20.5},{"a":"Ctrl","b":"R","y":19.9,"d":18.9,"t":"**","ty":19}]},"layer":[
{"mark":{"type":"rule","strokeWidth":2,"color":"#111"},"encoding":{"x":{"field":"a","type":"nominal"},"x2":{"field":"b"},"y":{"field":"y","type":"quantitative"}}},
{"mark":{"type":"rule","strokeWidth":2,"color":"#111"},"encoding":{"x":{"field":"b","type":"nominal"},"y":{"field":"y","type":"quantitative"},"y2":{"field":"d"}}},
{"mark":{"type":"text","align":"left","fontSize":15,"dy":3},"encoding":{"x":{"field":"a","type":"nominal"},"y":{"field":"ty","type":"quantitative"},"text":{"field":"t"}}}]}
]},
{"data":{"values":[]},"mark":{"type":"point","opacity":0},"width":84,"height":1},
{"bounds":"flush","spacing":0,"vconcat":[{"data":{"values":[]},"mark":{"type":"point","opacity":0},"width":1,"height":11},
{"width":289,"height":231,"title":{"text":"Irradiated tumors","offset":24,"dx":6},"encoding":{"y":{"field":"v","type":"quantitative","scale":{"domain":[0,65.2],"nice":false},"axis":{"title":"SIINFEKL⁺ DC (%)","titleX":-36,"titleFontSize":18.5,"labelFontSize":14,"labelPadding":1,"values":[0,30,60]}}},"layer":[
{"data":{"values":[{"g":"Ctrl","v":8,"lo":6.8,"hi":9.2},{"g":"R","v":15.6,"lo":13.8,"hi":17.4},{"g":"P","v":13,"lo":11,"hi":15},{"g":"RP","v":18.8,"lo":15.9,"hi":22.3},{"g":"S","v":8,"lo":6.9,"hi":9.2},{"g":"SP","v":11,"lo":9,"hi":13},{"g":"RS","v":19,"lo":15.6,"hi":23},{"g":"RSP","v":30.2,"lo":26.6,"hi":34}]},"encoding":{"x":{"field":"g","type":"nominal","scale":{"type":"point","padding":0.84,"align":0.6,"domain":["Ctrl","R","P","RP","S","SP","RS","RSP"]},"axis":{"title":null}}},"layer":[
{"mark":{"type":"bar","size":20,"stroke":"#111","strokeWidth":2.8},"encoding":{"color":{"field":"g","type":"nominal","legend":null}}},
{"mark":{"type":"rule","strokeWidth":2,"color":"#111"},"encoding":{"y":{"field":"lo","type":"quantitative"},"y2":{"field":"hi"}}},
{"mark":{"type":"tick","size":13,"thickness":2,"color":"#111"},"encoding":{"y":{"field":"hi","type":"quantitative"}}},
{"mark":{"type":"tick","size":13,"thickness":2,"color":"#111"},"encoding":{"y":{"field":"lo","type":"quantitative"}}}]},
{"data":{"values":[{"g":"Ctrl","v":13.5,"j":1},{"g":"Ctrl","v":12.8,"j":-3},{"g":"Ctrl","v":11,"j":0},{"g":"Ctrl","v":9.8,"j":-4},{"g":"Ctrl","v":9.8,"j":4},{"g":"Ctrl","v":8.7,"j":0},{"g":"Ctrl","v":7.7,"j":-7},{"g":"Ctrl","v":7.5,"j":7},{"g":"Ctrl","v":6.7,"j":-3},{"g":"Ctrl","v":6.3,"j":4},{"g":"Ctrl","v":5.5,"j":0},{"g":"Ctrl","v":5,"j":-5},{"g":"Ctrl","v":4,"j":-2},{"g":"Ctrl","v":3.9,"j":3},{"g":"R","v":32,"j":0},{"g":"R","v":26.6,"j":0},{"g":"R","v":17.2,"j":-8},{"g":"R","v":17.2,"j":8},{"g":"R","v":15,"j":0},{"g":"R","v":14.5,"j":-7},{"g":"R","v":13.5,"j":7},{"g":"R","v":12.5,"j":0},{"g":"R","v":12.5,"j":-8},{"g":"R","v":11.5,"j":7},{"g":"R","v":10.5,"j":-8},{"g":"R","v":10,"j":0},{"g":"R","v":9.6,"j":8},{"g":"R","v":9.5,"j":0},{"g":"P","v":39.2,"j":0},{"g":"P","v":19.5,"j":0},{"g":"P","v":15.8,"j":-3},{"g":"P","v":15.8,"j":4},{"g":"P","v":14.5,"j":-2},{"g":"P","v":12.5,"j":0},{"g":"P","v":11.8,"j":5},{"g":"P","v":9.5,"j":-8},{"g":"P","v":8.7,"j":8},{"g":"P","v":7,"j":0},{"g":"P","v":5.2,"j":-8},{"g":"P","v":5.2,"j":8},{"g":"RP","v":46.3,"j":0},{"g":"RP","v":35.2,"j":0},{"g":"RP","v":33.6,"j":0},{"g":"RP","v":19.5,"j":0},{"g":"RP","v":18.9,"j":-9},{"g":"RP","v":18.9,"j":9},{"g":"RP","v":16.8,"j":0},{"g":"RP","v":14.8,"j":-5},{"g":"RP","v":13.6,"j":5},{"g":"RP","v":12.5,"j":0},{"g":"RP","v":9.2,"j":-8},{"g":"RP","v":8.2,"j":0},{"g":"RP","v":7.7,"j":8},{"g":"RP","v":7.7,"j":-8},{"g":"S","v":14,"j":3},{"g":"S","v":13,"j":-3},{"g":"S","v":11,"j":0},{"g":"S","v":10,"j":-4},{"g":"S","v":9,"j":4},{"g":"S","v":8,"j":-8},{"g":"S","v":7.8,"j":8},{"g":"S","v":7.5,"j":0},{"g":"S","v":7,"j":-6},{"g":"S","v":6.5,"j":6},{"g":"S","v":5.5,"j":-4},{"g":"S","v":5,"j":4},{"g":"S","v":4.5,"j":0},{"g":"SP","v":37.2,"j":0},{"g":"SP","v":20.7,"j":0},{"g":"SP","v":14.2,"j":0},{"g":"SP","v":13,"j":-4},{"g":"SP","v":12.5,"j":4},{"g":"SP","v":10.5,"j":0},{"g":"SP","v":9.5,"j":-6},{"g":"SP","v":9.5,"j":6},{"g":"SP","v":8.6,"j":-9},{"g":"SP","v":8.5,"j":9},{"g":"SP","v":8,"j":0},{"g":"SP","v":7,"j":-3},{"g":"SP","v":6,"j":3},{"g":"SP","v":4.2,"j":0},{"g":"RS","v":47.8,"j":0},{"g":"RS","v":39.3,"j":-4},{"g":"RS","v":39.8,"j":3},{"g":"RS","v":19.1,"j":0},{"g":"RS","v":14.5,"j":-1},{"g":"RS","v":13.5,"j":-5},{"g":"RS","v":12.5,"j":4},{"g":"RS","v":11.5,"j":0},{"g":"RS","v":12,"j":-8},{"g":"RS","v":11.8,"j":8},{"g":"RS","v":11,"j":-6},{"g":"RS","v":10.5,"j":6},{"g":"RS","v":9.8,"j":-3},{"g":"RS","v":9.8,"j":3},{"g":"RSP","v":53.6,"j":0},{"g":"RSP","v":49,"j":0},{"g":"RSP","v":46.5,"j":0},{"g":"RSP","v":43.5,"j":0},{"g":"RSP","v":40.7,"j":0},{"g":"RSP","v":38.8,"j":0},{"g":"RSP","v":30.2,"j":-6},{"g":"RSP","v":30.2,"j":6},{"g":"RSP","v":27.5,"j":0},{"g":"RSP","v":22.5,"j":0},{"g":"RSP","v":19.5,"j":0},{"g":"RSP","v":16.6,"j":0},{"g":"RSP","v":13.7,"j":0},{"g":"RSP","v":11.6,"j":-6},{"g":"RSP","v":11.8,"j":6}]},"mark":{"type":"point","filled":true,"fill":"#fff","stroke":"#111","strokeWidth":1.8,"size":42,"opacity":1},"encoding":{"x":{"field":"g","type":"nominal"},"xOffset":{"field":"j","type":"quantitative","scale":null}}},
{"data":{"values":[{"a":"Ctrl","b":"RSP","y":65.3,"d":57.4,"t":"****","ty":63.4},{"a":"R","b":"RSP","y":64.3,"d":57.4,"t":"***","ty":62},{"a":"P","b":"RSP","y":63.2,"d":57.4,"t":"****","ty":60.8},{"a":"RP","b":"RSP","y":62,"d":57.4,"t":"*","ty":59.6},{"a":"S","b":"RSP","y":61,"d":57.4,"t":"****","ty":58.8},{"a":"SP","b":"RSP","y":59.7,"d":57.4,"t":"****","ty":57.5},{"a":"RS","b":"RSP","y":58.7,"d":57.4,"t":"*","ty":56.6},{"a":"Ctrl","b":"RS","y":55,"d":50.5,"t":"**","ty":53.1},{"a":"S","b":"RS","y":53.8,"d":50.5,"t":"**","ty":51.6},{"a":"Ctrl","b":"RP","y":51.2,"d":47.9,"t":"**","ty":48.9},{"a":"Ctrl","b":"R","y":46.2,"d":35.8,"t":"***","ty":43.9}]},"layer":[
{"mark":{"type":"rule","strokeWidth":2,"color":"#111"},"encoding":{"x":{"field":"a","type":"nominal"},"x2":{"field":"b"},"y":{"field":"y","type":"quantitative"}}},
{"mark":{"type":"rule","strokeWidth":2,"color":"#111"},"encoding":{"x":{"field":"b","type":"nominal"},"y":{"field":"y","type":"quantitative"},"y2":{"field":"d"}}},
{"mark":{"type":"text","align":"left","fontSize":15,"dy":3},"encoding":{"x":{"field":"a","type":"nominal"},"y":{"field":"ty","type":"quantitative"},"text":{"field":"t"}}}]}
]}]},
{"data":{"values":[]},"mark":{"type":"point","opacity":0},"width":323,"height":1},
{"bounds":"flush","spacing":0,"vconcat":[{"data":{"values":[]},"mark":{"type":"point","opacity":0},"width":1,"height":11},
{"width":279,"height":232,"title":{"text":"Spleen","offset":19},"encoding":{"y":{"field":"v","type":"quantitative","scale":{"domain":[0,12],"nice":false},"axis":{"title":null,"labelFontSize":16,"values":[0,4,8,12]}}},"layer":[
{"data":{"values":[{"g":"Ctrl","v":1.1,"lo":0.85,"hi":1.4},{"g":"R","v":1.25,"lo":0.95,"hi":1.55},{"g":"P","v":1.05,"lo":0.9,"hi":1.2},{"g":"RP","v":2.3,"lo":1.45,"hi":3.2},{"g":"S","v":1,"lo":0.85,"hi":1.1},{"g":"SP","v":1.05,"lo":0.9,"hi":1.2},{"g":"RS","v":2.65,"lo":1.75,"hi":3.6},{"g":"RSP","v":4.3,"lo":3.05,"hi":5.6}]},"encoding":{"x":{"field":"g","type":"nominal","scale":{"type":"point","padding":0.68,"domain":["Ctrl","R","P","RP","S","SP","RS","RSP"]},"axis":{"title":null}}},"layer":[
{"mark":{"type":"bar","size":20,"stroke":"#111","strokeWidth":2.8},"encoding":{"color":{"field":"g","type":"nominal","legend":null}}},
{"mark":{"type":"rule","strokeWidth":2,"color":"#111"},"encoding":{"y":{"field":"lo","type":"quantitative"},"y2":{"field":"hi"}}},
{"mark":{"type":"tick","size":13,"thickness":2,"color":"#111"},"encoding":{"y":{"field":"hi","type":"quantitative"}}},
{"mark":{"type":"tick","size":13,"thickness":2,"color":"#111"},"encoding":{"y":{"field":"lo","type":"quantitative"}}}]},
{"data":{"values":[{"g":"Ctrl","v":2.5,"j":0},{"g":"Ctrl","v":1.4,"j":0},{"g":"Ctrl","v":1.15,"j":-5},{"g":"Ctrl","v":1.1,"j":8},{"g":"Ctrl","v":0.95,"j":-3},{"g":"Ctrl","v":0.85,"j":3},{"g":"Ctrl","v":0.8,"j":-8},{"g":"Ctrl","v":0.75,"j":8},{"g":"R","v":2.8,"j":0},{"g":"R","v":1.65,"j":0},{"g":"R","v":1.2,"j":-8},{"g":"R","v":1.15,"j":4},{"g":"R","v":1.05,"j":-3},{"g":"R","v":1,"j":10},{"g":"R","v":0.9,"j":-8},{"g":"R","v":0.8,"j":5},{"g":"R","v":0.8,"j":-1},{"g":"P","v":1.25,"j":-8},{"g":"P","v":1.15,"j":1},{"g":"P","v":1.15,"j":8},{"g":"P","v":1.05,"j":4},{"g":"P","v":0.7,"j":0},{"g":"RP","v":5,"j":0},{"g":"RP","v":3.7,"j":0},{"g":"RP","v":1.1,"j":0},{"g":"RP","v":1,"j":9},{"g":"RP","v":0.8,"j":-8},{"g":"S","v":1.15,"j":-8},{"g":"S","v":1.1,"j":-2},{"g":"S","v":1.05,"j":3},{"g":"S","v":1.05,"j":8},{"g":"S","v":0.65,"j":0},{"g":"SP","v":1.2,"j":-8},{"g":"SP","v":1.25,"j":-1},{"g":"SP","v":1.2,"j":4},{"g":"SP","v":1.1,"j":9},{"g":"SP","v":0.8,"j":-8},{"g":"SP","v":0.85,"j":3},{"g":"SP","v":1,"j":1},{"g":"RS","v":8.7,"j":0},{"g":"RS","v":4,"j":0},{"g":"RS","v":2.55,"j":0},{"g":"RS","v":2,"j":0},{"g":"RS","v":1.2,"j":-8},{"g":"RS","v":1.15,"j":0},{"g":"RS","v":0.9,"j":8},{"g":"RS","v":0.85,"j":-8},{"g":"RSP","v":10.85,"j":0},{"g":"RSP","v":9.35,"j":0},{"g":"RSP","v":3.45,"j":-8},{"g":"RSP","v":3.4,"j":0},{"g":"RSP","v":3.4,"j":8},{"g":"RSP","v":1.9,"j":8},{"g":"RSP","v":1.75,"j":0},{"g":"RSP","v":0.85,"j":0}]},"mark":{"type":"point","filled":true,"fill":"#fff","stroke":"#111","strokeWidth":1.8,"size":42,"opacity":1},"encoding":{"x":{"field":"g","type":"nominal"},"xOffset":{"field":"j","type":"quantitative","scale":null}}},
{"data":{"values":[{"a":"Ctrl","b":"RSP","y":12.07,"d":11.17,"t":"**","ty":11.6},{"a":"R","b":"RSP","y":11.86,"d":11.17,"t":"**","ty":11.4},{"a":"P","b":"RSP","y":11.67,"d":11.17,"t":"*","ty":11.17},{"a":"S","b":"RSP","y":11.46,"d":11.17,"t":"*","ty":10.98},{"a":"SP","b":"RSP","y":11.26,"d":11.17,"t":"*","ty":10.83}]},"layer":[
{"mark":{"type":"rule","strokeWidth":2,"color":"#111"},"encoding":{"x":{"field":"a","type":"nominal"},"x2":{"field":"b"},"y":{"field":"y","type":"quantitative"}}},
{"mark":{"type":"rule","strokeWidth":2,"color":"#111"},"encoding":{"x":{"field":"b","type":"nominal"},"y":{"field":"y","type":"quantitative"},"y2":{"field":"d"}}},
{"mark":{"type":"text","align":"left","fontSize":15,"dy":3},"encoding":{"x":{"field":"a","type":"nominal"},"y":{"field":"ty","type":"quantitative"},"text":{"field":"t"}}}]}
]}]},
{"data":{"values":[]},"mark":{"type":"point","opacity":0},"width":360,"height":1},
{"bounds":"flush","spacing":0,"vconcat":[{"data":{"values":[]},"mark":{"type":"point","opacity":0},"width":1,"height":11},
{"width":265,"height":231,"title":{"text":"Irradiated tumors","offset":17,"dx":5},"encoding":{"y":{"field":"v","type":"quantitative","scale":{"domain":[0,40],"nice":false},"axis":{"title":"SIINFEKL⁺ Mo-Mac (%)","titleX":-44,"titleFontSize":18.5,"labelFontSize":16,"values":[0,10,20,30,40]}}},"layer":[
{"data":{"values":[{"g":"Ctrl","v":6.3,"lo":4.8,"hi":7.8},{"g":"R","v":8.9,"lo":7.3,"hi":10.6},{"g":"P","v":7.7,"lo":6,"hi":9.5},{"g":"RP","v":12.6,"lo":11,"hi":14.3},{"g":"S","v":6.7,"lo":5.5,"hi":8},{"g":"SP","v":7,"lo":5.8,"hi":8.3},{"g":"RS","v":10.6,"lo":9.2,"hi":12},{"g":"RSP","v":14.9,"lo":13.6,"hi":16.2}]},"encoding":{"x":{"field":"g","type":"nominal","scale":{"type":"point","padding":0.495,"align":0.64,"domain":["Ctrl","R","P","RP","S","SP","RS","RSP"]},"axis":{"title":null}}},"layer":[
{"mark":{"type":"bar","size":20,"stroke":"#111","strokeWidth":2.8},"encoding":{"color":{"field":"g","type":"nominal","legend":null}}},
{"mark":{"type":"rule","strokeWidth":2,"color":"#111"},"encoding":{"y":{"field":"lo","type":"quantitative"},"y2":{"field":"hi"}}},
{"mark":{"type":"tick","size":13,"thickness":2,"color":"#111"},"encoding":{"y":{"field":"hi","type":"quantitative"}}},
{"mark":{"type":"tick","size":13,"thickness":2,"color":"#111"},"encoding":{"y":{"field":"lo","type":"quantitative"}}}]},
{"data":{"values":[{"g":"Ctrl","v":14.7,"j":0},{"g":"Ctrl","v":13.3,"j":2},{"g":"Ctrl","v":13.1,"j":-2},{"g":"Ctrl","v":10.8,"j":0},{"g":"Ctrl","v":8.8,"j":0},{"g":"Ctrl","v":6.2,"j":0},{"g":"Ctrl","v":6,"j":2},{"g":"Ctrl","v":4.1,"j":0},{"g":"Ctrl","v":2,"j":-6},{"g":"Ctrl","v":1.9,"j":3},{"g":"Ctrl","v":1.3,"j":-8},{"g":"Ctrl","v":1.2,"j":-3},{"g":"Ctrl","v":1,"j":7},{"g":"Ctrl","v":1.3,"j":3},{"g":"R","v":18.5,"j":0},{"g":"R","v":17.1,"j":0},{"g":"R","v":15.3,"j":3},{"g":"R","v":15,"j":-4},{"g":"R","v":13.7,"j":0},{"g":"R","v":11,"j":0},{"g":"R","v":9.5,"j":-3},{"g":"R","v":9.1,"j":3},{"g":"R","v":7.4,"j":0},{"g":"R","v":2.5,"j":-7},{"g":"R","v":2.3,"j":-8},{"g":"R","v":2.4,"j":0},{"g":"R","v":2.3,"j":8},{"g":"R","v":1.9,"j":3},{"g":"R","v":1.5,"j":-8},{"g":"P","v":21.6,"j":0},{"g":"P","v":15.8,"j":0},{"g":"P","v":10,"j":0},{"g":"P","v":9.4,"j":0},{"g":"P","v":7.7,"j":-7},{"g":"P","v":7.6,"j":8},{"g":"P","v":6.5,"j":-8},{"g":"P","v":6.4,"j":4},{"g":"P","v":6.2,"j":0},{"g":"P","v":5.8,"j":8},{"g":"P","v":2.2,"j":0},{"g":"P","v":1.3,"j":-7},{"g":"P","v":1.4,"j":7},{"g":"RP","v":18.2,"j":0},{"g":"RP","v":16.5,"j":-7},{"g":"RP","v":16.5,"j":-2},{"g":"RP","v":16,"j":5},{"g":"RP","v":17,"j":8},{"g":"RP","v":16,"j":9},{"g":"RP","v":12.8,"j":-4},{"g":"RP","v":12.6,"j":4},{"g":"RP","v":11.5,"j":0},{"g":"RP","v":9.2,"j":0},{"g":"RP","v":2.2,"j":1},{"g":"RP","v":1.9,"j":-3},{"g":"S","v":12.9,"j":3},{"g":"S","v":12.5,"j":-4},{"g":"S","v":11,"j":-4},{"g":"S","v":11,"j":3},{"g":"S","v":9.9,"j":-1},{"g":"S","v":9.2,"j":0},{"g":"S","v":7.9,"j":-4},{"g":"S","v":7.5,"j":4},{"g":"S","v":6.8,"j":0},{"g":"S","v":3,"j":0},{"g":"S","v":2,"j":-7},{"g":"S","v":1.4,"j":3},{"g":"S","v":1.3,"j":-7},{"g":"S","v":1.3,"j":8},{"g":"SP","v":13.6,"j":0},{"g":"SP","v":12,"j":-4},{"g":"SP","v":12,"j":1},{"g":"SP","v":9.5,"j":0},{"g":"SP","v":9.2,"j":-6},{"g":"SP","v":8.6,"j":5},{"g":"SP","v":8.3,"j":0},{"g":"SP","v":7.7,"j":-6},{"g":"SP","v":7.6,"j":8},{"g":"SP","v":7,"j":-5},{"g":"SP","v":6.8,"j":2},{"g":"SP","v":5.8,"j":0},{"g":"SP","v":3.2,"j":8},{"g":"SP","v":2.6,"j":-4},{"g":"SP","v":2.2,"j":8},{"g":"SP","v":1.3,"j":-7},{"g":"RS","v":15.7,"j":3},{"g":"RS","v":15.3,"j":-4},{"g":"RS","v":14.4,"j":0},{"g":"RS","v":13.7,"j":-6},{"g":"RS","v":13.6,"j":8},{"g":"RS","v":13.1,"j":0},{"g":"RS","v":12.7,"j":-8},{"g":"RS","v":12,"j":8},{"g":"RS","v":10.4,"j":0},{"g":"RS","v":9.8,"j":0},{"g":"RS","v":4.3,"j":0},{"g":"RS","v":2.5,"j":3},{"g":"RS","v":2,"j":-6},{"g":"RSP","v":29.4,"j":0},{"g":"RSP","v":19.2,"j":0},{"g":"RSP","v":18.2,"j":-7},{"g":"RSP","v":18,"j":3},{"g":"RSP","v":17.5,"j":8},{"g":"RSP","v":16.6,"j":0},{"g":"RSP","v":15.5,"j":-3},{"g":"RSP","v":15.6,"j":3},{"g":"RSP","v":14.5,"j":-3},{"g":"RSP","v":13.5,"j":3},{"g":"RSP","v":13,"j":-1},{"g":"RSP","v":12,"j":0},{"g":"RSP","v":11.5,"j":-5},{"g":"RSP","v":10.5,"j":3},{"g":"RSP","v":9,"j":0},{"g":"RSP","v":6.2,"j":0}]},"mark":{"type":"point","filled":true,"fill":"#fff","stroke":"#111","strokeWidth":1.8,"size":42,"opacity":1},"encoding":{"x":{"field":"g","type":"nominal"},"xOffset":{"field":"j","type":"quantitative","scale":null}}},
{"data":{"values":[{"a":"Ctrl","b":"RSP","y":39.8,"d":34.4,"t":"***","ty":38.4},{"a":"R","b":"RSP","y":39.1,"d":34.4,"t":"*","ty":37.8},{"a":"P","b":"RSP","y":38.3,"d":34.4,"t":"**","ty":37},{"a":"S","b":"RSP","y":37.4,"d":34.4,"t":"***","ty":36.1},{"a":"SP","b":"RSP","y":36.7,"d":34.4,"t":"***","ty":35.4},{"a":"Ctrl","b":"RP","y":30.6,"d":24,"t":"*","ty":29.2}]},"layer":[
{"mark":{"type":"rule","strokeWidth":2,"color":"#111"},"encoding":{"x":{"field":"a","type":"nominal"},"x2":{"field":"b"},"y":{"field":"y","type":"quantitative"}}},
{"mark":{"type":"rule","strokeWidth":2,"color":"#111"},"encoding":{"x":{"field":"b","type":"nominal"},"y":{"field":"y","type":"quantitative"},"y2":{"field":"d"}}},
{"mark":{"type":"text","align":"left","fontSize":15,"dy":3},"encoding":{"x":{"field":"a","type":"nominal"},"y":{"field":"ty","type":"quantitative"},"text":{"field":"t"}}}]}
]}]},
{"data":{"values":[]},"mark":{"type":"point","opacity":0},"width":307,"height":1},
{"bounds":"flush","spacing":0,"vconcat":[{"data":{"values":[]},"mark":{"type":"point","opacity":0},"width":1,"height":11},
{"width":275,"height":232,"title":{"text":"Spleen","offset":19},"encoding":{"y":{"field":"v","type":"quantitative","scale":{"domain":[0,12],"nice":false},"axis":{"title":null,"labelFontSize":16,"values":[0,4,8,12]}}},"layer":[
{"data":{"values":[{"g":"Ctrl","v":1.75,"lo":1.4,"hi":2.1},{"g":"R","v":2,"lo":1.65,"hi":2.35},{"g":"P","v":1.75,"lo":1.4,"hi":2.1},{"g":"RP","v":2.7,"lo":2,"hi":3.5},{"g":"S","v":1.3,"lo":1.15,"hi":1.4},{"g":"SP","v":1.4,"lo":1.25,"hi":1.55},{"g":"RS","v":3.15,"lo":2.35,"hi":4},{"g":"RSP","v":5.4,"lo":4.4,"hi":6.6}]},"encoding":{"x":{"field":"g","type":"nominal","scale":{"type":"point","padding":0.63,"domain":["Ctrl","R","P","RP","S","SP","RS","RSP"]},"axis":{"title":null}}},"layer":[
{"mark":{"type":"bar","size":20,"stroke":"#111","strokeWidth":2.8},"encoding":{"color":{"field":"g","type":"nominal","legend":null}}},
{"mark":{"type":"rule","strokeWidth":2,"color":"#111"},"encoding":{"y":{"field":"lo","type":"quantitative"},"y2":{"field":"hi"}}},
{"mark":{"type":"tick","size":13,"thickness":2,"color":"#111"},"encoding":{"y":{"field":"hi","type":"quantitative"}}},
{"mark":{"type":"tick","size":13,"thickness":2,"color":"#111"},"encoding":{"y":{"field":"lo","type":"quantitative"}}}]},
{"data":{"values":[{"g":"Ctrl","v":3.75,"j":0},{"g":"Ctrl","v":2.35,"j":0},{"g":"Ctrl","v":1.65,"j":-8},{"g":"Ctrl","v":1.7,"j":1},{"g":"Ctrl","v":1.65,"j":8},{"g":"Ctrl","v":1.4,"j":-3},{"g":"Ctrl","v":1.3,"j":3},{"g":"Ctrl","v":1.1,"j":-8},{"g":"Ctrl","v":1.1,"j":2},{"g":"Ctrl","v":1.1,"j":8},{"g":"R","v":3.8,"j":0},{"g":"R","v":2.9,"j":0},{"g":"R","v":2.1,"j":-7},{"g":"R","v":2.1,"j":1},{"g":"R","v":2.1,"j":9},{"g":"R","v":1.9,"j":-3},{"g":"R","v":1.8,"j":4},{"g":"R","v":1.6,"j":-8},{"g":"R","v":1.5,"j":0},{"g":"R","v":1.5,"j":8},{"g":"P","v":3,"j":0},{"g":"P","v":1.8,"j":-3},{"g":"P","v":1.75,"j":7},{"g":"P","v":1.5,"j":-6},{"g":"P","v":1.45,"j":6},{"g":"P","v":1.2,"j":0},{"g":"RP","v":4.8,"j":0},{"g":"RP","v":4.5,"j":0},{"g":"RP","v":1.65,"j":-5},{"g":"RP","v":1.5,"j":4},{"g":"RP","v":1.1,"j":-3},{"g":"S","v":1.5,"j":-8},{"g":"S","v":1.35,"j":-3},{"g":"S","v":1.4,"j":3},{"g":"S","v":1.3,"j":8},{"g":"S","v":1.15,"j":-2},{"g":"SP","v":1.75,"j":-7},{"g":"SP","v":1.7,"j":2},{"g":"SP","v":1.8,"j":8},{"g":"SP","v":1.45,"j":-2},{"g":"SP","v":1.3,"j":-7},{"g":"SP","v":1.25,"j":7},{"g":"RS","v":7.25,"j":0},{"g":"RS","v":5.5,"j":0},{"g":"RS","v":4.75,"j":0},{"g":"RS","v":2.85,"j":0},{"g":"RS","v":1.45,"j":-8},{"g":"RS","v":1.35,"j":0},{"g":"RS","v":1.3,"j":8},{"g":"RS","v":1.1,"j":-8},{"g":"RSP","v":10.35,"j":0},{"g":"RSP","v":8.2,"j":0},{"g":"RSP","v":7.5,"j":0},{"g":"RSP","v":5.7,"j":0},{"g":"RSP","v":5.1,"j":0},{"g":"RSP","v":2.8,"j":0},{"g":"RSP","v":2.45,"j":0},{"g":"RSP","v":1.75,"j":0}]},"mark":{"type":"point","filled":true,"fill":"#fff","stroke":"#111","strokeWidth":1.8,"size":42,"opacity":1},"encoding":{"x":{"field":"g","type":"nominal"},"xOffset":{"field":"j","type":"quantitative","scale":null}}},
{"data":{"values":[{"a":"Ctrl","b":"RSP","y":12.02,"d":10.76,"t":"***","ty":11.62},{"a":"R","b":"RSP","y":11.83,"d":10.76,"t":"***","ty":11.42},{"a":"P","b":"RSP","y":11.64,"d":10.76,"t":"***","ty":11.2},{"a":"RP","b":"RSP","y":11.45,"d":10.76,"t":"*","ty":11},{"a":"S","b":"RSP","y":11.26,"d":10.76,"t":"***","ty":10.83},{"a":"SP","b":"RSP","y":11.07,"d":10.76,"t":"***","ty":10.62},{"a":"RS","b":"RSP","y":10.9,"d":10.76,"t":"*","ty":10.41}]},"layer":[
{"mark":{"type":"rule","strokeWidth":2,"color":"#111"},"encoding":{"x":{"field":"a","type":"nominal"},"x2":{"field":"b"},"y":{"field":"y","type":"quantitative"}}},
{"mark":{"type":"rule","strokeWidth":2,"color":"#111"},"encoding":{"x":{"field":"b","type":"nominal"},"y":{"field":"y","type":"quantitative"},"y2":{"field":"d"}}},
{"mark":{"type":"text","align":"left","fontSize":15,"dy":3},"encoding":{"x":{"field":"a","type":"nominal"},"y":{"field":"ty","type":"quantitative"},"text":{"field":"t"}}}]}
]}]}
]},
{"data":{"values":[]},"mark":{"type":"point","opacity":0},"width":1,"height":339},
{"bounds":"flush","spacing":0,"hconcat":[
{"data":{"values":[]},"mark":{"type":"point","opacity":0},"width":15,"height":1},
{"bounds":"flush","spacing":0,"vconcat":[
{"data":{"values":[{"t":"D"}]},"mark":{"type":"text","fontSize":30,"fontWeight":"bold","dx":-71,"dy":-16},"encoding":{"text":{"field":"t"}},"width":1,"height":28},
{"bounds":"flush","spacing":0,"hconcat":[
{"width":273,"height":228,"title":{"text":"DC: CD86","offset":19},"encoding":{"y":{"field":"v","type":"quantitative","scale":{"domain":[0,2.5],"nice":false},"axis":{"title":"MFI ratio (relative to ctrl)","titleX":-47,"titleFontSize":17.5,"labelFontSize":15,"format":".1f","values":[0,0.5,1,1.5,2,2.5]}}},"layer":[
{"data":{"values":[{"g":"Ctrl","v":1,"lo":0.95,"hi":1.05},{"g":"R","v":1.3,"lo":1.22,"hi":1.38},{"g":"P","v":1.12,"lo":0.95,"hi":1.3},{"g":"RP","v":1.4,"lo":1.3,"hi":1.52},{"g":"S","v":0.87,"lo":0.82,"hi":0.92},{"g":"SP","v":0.96,"lo":0.92,"hi":1},{"g":"RS","v":1.2,"lo":1.1,"hi":1.28},{"g":"RSP","v":1.52,"lo":1.4,"hi":1.63}]},"encoding":{"x":{"field":"g","type":"nominal","scale":{"type":"point","padding":0.68,"domain":["Ctrl","R","P","RP","S","SP","RS","RSP"]},"axis":{"title":null}}},"layer":[
{"mark":{"type":"bar","size":20,"stroke":"#111","strokeWidth":2.8},"encoding":{"color":{"field":"g","type":"nominal","legend":null}}},
{"mark":{"type":"rule","strokeWidth":2,"color":"#111"},"encoding":{"y":{"field":"lo","type":"quantitative"},"y2":{"field":"hi"}}},
{"mark":{"type":"tick","size":13,"thickness":2,"color":"#111"},"encoding":{"y":{"field":"hi","type":"quantitative"}}},
{"mark":{"type":"tick","size":13,"thickness":2,"color":"#111"},"encoding":{"y":{"field":"lo","type":"quantitative"}}}]},
{"data":{"values":[{"v":1}]},"mark":{"type":"rule","strokeDash":[6,4],"strokeWidth":2,"color":"#111"}},
{"data":{"values":[{"g":"Ctrl","v":1.28,"j":0},{"g":"Ctrl","v":1.1,"j":0},{"g":"Ctrl","v":1.04,"j":-4},{"g":"Ctrl","v":1,"j":8},{"g":"Ctrl","v":1,"j":-8},{"g":"Ctrl","v":0.95,"j":0},{"g":"Ctrl","v":0.88,"j":-8},{"g":"Ctrl","v":0.9,"j":4},{"g":"Ctrl","v":0.77,"j":0},{"g":"R","v":1.42,"j":-1},{"g":"R","v":1.42,"j":7},{"g":"R","v":1.39,"j":-8},{"g":"R","v":1.3,"j":-3},{"g":"R","v":1.22,"j":4},{"g":"R","v":1.22,"j":-4},{"g":"R","v":1.1,"j":0},{"g":"P","v":1.95,"j":0},{"g":"P","v":1.04,"j":-8},{"g":"P","v":1,"j":9},{"g":"P","v":0.98,"j":1},{"g":"P","v":0.88,"j":-3},{"g":"P","v":0.88,"j":3},{"g":"RP","v":1.92,"j":0},{"g":"RP","v":1.71,"j":-6},{"g":"RP","v":1.71,"j":6},{"g":"RP","v":1.48,"j":-6},{"g":"RP","v":1.48,"j":5},{"g":"RP","v":1.25,"j":0},{"g":"RP","v":1.12,"j":0},{"g":"RP","v":1.05,"j":-1},{"g":"RP","v":0.95,"j":0},{"g":"S","v":1,"j":-3},{"g":"S","v":0.97,"j":-5},{"g":"S","v":0.92,"j":-8},{"g":"S","v":0.87,"j":-2},{"g":"S","v":0.87,"j":6},{"g":"S","v":0.83,"j":-7},{"g":"S","v":0.83,"j":3},{"g":"S","v":0.73,"j":0},{"g":"SP","v":1.05,"j":3},{"g":"SP","v":1,"j":-6},{"g":"SP","v":1,"j":9},{"g":"SP","v":0.98,"j":-2},{"g":"SP","v":0.95,"j":5},{"g":"SP","v":0.92,"j":-8},{"g":"SP","v":0.9,"j":2},{"g":"SP","v":0.87,"j":-3},{"g":"RS","v":1.49,"j":0},{"g":"RS","v":1.39,"j":0},{"g":"RS","v":1.3,"j":0},{"g":"RS","v":1.15,"j":-5},{"g":"RS","v":1.13,"j":3},{"g":"RS","v":1.02,"j":-6},{"g":"RS","v":0.98,"j":6},{"g":"RSP","v":1.9,"j":0},{"g":"RSP","v":1.79,"j":0},{"g":"RSP","v":1.45,"j":0},{"g":"RSP","v":1.4,"j":-6},{"g":"RSP","v":1.4,"j":6},{"g":"RSP","v":1.3,"j":0},{"g":"RSP","v":1.06,"j":0}]},"mark":{"type":"point","filled":true,"fill":"#fff","stroke":"#111","strokeWidth":1.8,"size":42,"opacity":1},"encoding":{"x":{"field":"g","type":"nominal"},"xOffset":{"field":"j","type":"quantitative","scale":null}}},
{"data":{"values":[{"a":"Ctrl","b":"RSP","y":2.49,"d":2.17,"t":"***","ty":2.42},{"a":"P","b":"RSP","y":2.45,"d":2.17,"t":"*","ty":2.36},{"a":"S","b":"RSP","y":2.4,"d":2.17,"t":"****","ty":2.32},{"a":"SP","b":"RSP","y":2.36,"d":2.17,"t":"***","ty":2.27},{"a":"Ctrl","b":"RS","y":2.2,"d":1.9,"t":"*","ty":2.12},{"a":"S","b":"RS","y":2.15,"d":1.9,"t":"***","ty":2.07},{"a":"Ctrl","b":"RP","y":2.05,"d":1.99,"t":"*","ty":1.98},{"a":"Ctrl","b":"R","y":1.9,"d":1.64,"t":"***","ty":1.82}]},"layer":[
{"mark":{"type":"rule","strokeWidth":2,"color":"#111"},"encoding":{"x":{"field":"a","type":"nominal"},"x2":{"field":"b"},"y":{"field":"y","type":"quantitative"}}},
{"mark":{"type":"rule","strokeWidth":2,"color":"#111"},"encoding":{"x":{"field":"b","type":"nominal"},"y":{"field":"y","type":"quantitative"},"y2":{"field":"d"}}},
{"mark":{"type":"text","align":"left","fontSize":15,"dy":3},"encoding":{"x":{"field":"a","type":"nominal"},"y":{"field":"ty","type":"quantitative"},"text":{"field":"t"}}}]}
]},
{"data":{"values":[]},"mark":{"type":"point","opacity":0},"width":55,"height":1},
{"width":272,"height":228,"title":{"text":"Mo-Mac: CD86","offset":19},"encoding":{"y":{"field":"v","type":"quantitative","scale":{"domain":[0,2.5],"nice":false},"axis":{"title":null,"labelFontSize":15,"format":".1f","values":[0,0.5,1,1.5,2,2.5]}}},"layer":[
{"data":{"values":[{"g":"Ctrl","v":1,"lo":0.95,"hi":1.06},{"g":"R","v":1.27,"lo":1.18,"hi":1.38},{"g":"P","v":1.14,"lo":1.04,"hi":1.27},{"g":"RP","v":1.35,"lo":1.22,"hi":1.48},{"g":"S","v":0.8,"lo":0.74,"hi":0.87},{"g":"SP","v":0.88,"lo":0.82,"hi":0.93},{"g":"RS","v":1.32,"lo":1.25,"hi":1.4},{"g":"RSP","v":1.58,"lo":1.38,"hi":1.8}]},"encoding":{"x":{"field":"g","type":"nominal","scale":{"type":"point","padding":0.65,"domain":["Ctrl","R","P","RP","S","SP","RS","RSP"]},"axis":{"title":null}}},"layer":[
{"mark":{"type":"bar","size":20,"stroke":"#111","strokeWidth":2.8},"encoding":{"color":{"field":"g","type":"nominal","legend":null}}},
{"mark":{"type":"rule","strokeWidth":2,"color":"#111"},"encoding":{"y":{"field":"lo","type":"quantitative"},"y2":{"field":"hi"}}},
{"mark":{"type":"tick","size":13,"thickness":2,"color":"#111"},"encoding":{"y":{"field":"hi","type":"quantitative"}}},
{"mark":{"type":"tick","size":13,"thickness":2,"color":"#111"},"encoding":{"y":{"field":"lo","type":"quantitative"}}}]},
{"data":{"values":[{"v":1}]},"mark":{"type":"rule","strokeDash":[6,4],"strokeWidth":2,"color":"#111"}},
{"data":{"values":[{"g":"Ctrl","v":1.29,"j":0},{"g":"Ctrl","v":1.2,"j":0},{"g":"Ctrl","v":1,"j":8},{"g":"Ctrl","v":0.98,"j":-1},{"g":"Ctrl","v":0.97,"j":4},{"g":"Ctrl","v":0.96,"j":-8},{"g":"Ctrl","v":0.94,"j":-3},{"g":"Ctrl","v":0.9,"j":4},{"g":"Ctrl","v":0.75,"j":0},{"g":"R","v":1.65,"j":0},{"g":"R","v":1.43,"j":6},{"g":"R","v":1.4,"j":-5},{"g":"R","v":1.35,"j":5},{"g":"R","v":1.3,"j":-3},{"g":"R","v":1.25,"j":-6},{"g":"R","v":0.97,"j":0},{"g":"R","v":0.87,"j":0},{"g":"P","v":1.74,"j":0},{"g":"P","v":1.05,"j":0},{"g":"P","v":1,"j":-7},{"g":"P","v":1,"j":7},{"g":"P","v":0.95,"j":-3},{"g":"P","v":0.98,"j":3},{"g":"RP","v":2.15,"j":0},{"g":"RP","v":1.62,"j":0},{"g":"RP","v":1.5,"j":0},{"g":"RP","v":1.33,"j":-8},{"g":"RP","v":1.33,"j":10},{"g":"RP","v":1.3,"j":0},{"g":"RP","v":1.22,"j":1},{"g":"RP","v":0.86,"j":-7},{"g":"RP","v":0.86,"j":4},{"g":"S","v":0.99,"j":5},{"g":"S","v":0.94,"j":-3},{"g":"S","v":0.87,"j":-7},{"g":"S","v":0.8,"j":-2},{"g":"S","v":0.8,"j":3},{"g":"S","v":0.78,"j":6},{"g":"S","v":0.76,"j":-9},{"g":"S","v":0.75,"j":-3},{"g":"S","v":0.7,"j":-8},{"g":"SP","v":1.01,"j":3},{"g":"SP","v":0.96,"j":-5},{"g":"SP","v":0.93,"j":8},{"g":"SP","v":0.92,"j":-8},{"g":"SP","v":0.88,"j":-3},{"g":"SP","v":0.85,"j":3},{"g":"SP","v":0.72,"j":-4},{"g":"SP","v":0.7,"j":1},{"g":"RS","v":1.5,"j":-9},{"g":"RS","v":1.5,"j":5},{"g":"RS","v":1.38,"j":-5},{"g":"RS","v":1.36,"j":1},{"g":"RS","v":1.28,"j":-4},{"g":"RS","v":1.27,"j":5},{"g":"RS","v":0.93,"j":0},{"g":"RSP","v":2.32,"j":0},{"g":"RSP","v":2.05,"j":0},{"g":"RSP","v":1.72,"j":0},{"g":"RSP","v":1.65,"j":0},{"g":"RSP","v":1.47,"j":0},{"g":"RSP","v":1.3,"j":0},{"g":"RSP","v":0.62,"j":0}]},"mark":{"type":"point","filled":true,"fill":"#fff","stroke":"#111","strokeWidth":1.8,"size":42,"opacity":1},"encoding":{"x":{"field":"g","type":"nominal"},"xOffset":{"field":"j","type":"quantitative","scale":null}}},
{"data":{"values":[{"a":"Ctrl","b":"RSP","y":2.52,"d":2.38,"t":"**","ty":2.44},{"a":"S","b":"RSP","y":2.47,"d":2.38,"t":"****","ty":2.38},{"a":"SP","b":"RSP","y":2.43,"d":2.38,"t":"***","ty":2.34},{"a":"Ctrl","b":"RS","y":2.27,"d":1.84,"t":"**","ty":2.19},{"a":"S","b":"RS","y":2.23,"d":1.84,"t":"****","ty":2.14},{"a":"Ctrl","b":"R","y":2.07,"d":1.82,"t":"*","ty":1.99}]},"layer":[
{"mark":{"type":"rule","strokeWidth":2,"color":"#111"},"encoding":{"x":{"field":"a","type":"nominal"},"x2":{"field":"b"},"y":{"field":"y","type":"quantitative"}}},
{"mark":{"type":"rule","strokeWidth":2,"color":"#111"},"encoding":{"x":{"field":"b","type":"nominal"},"y":{"field":"y","type":"quantitative"},"y2":{"field":"d"}}},
{"mark":{"type":"text","align":"left","fontSize":15,"dy":3},"encoding":{"x":{"field":"a","type":"nominal"},"y":{"field":"ty","type":"quantitative"},"text":{"field":"t"}}}]}
]}]},
{"data":{"values":[]},"mark":{"type":"point","opacity":0},"width":1,"height":342},
{"bounds":"flush","spacing":0,"hconcat":[
{"width":273,"height":227,"title":{"text":"DC: PD-L1","offset":20},"encoding":{"y":{"field":"v","type":"quantitative","scale":{"domain":[0,2.5],"nice":false},"axis":{"title":"MFI ratio (relative to ctrl)","titleX":-47,"titleFontSize":17.5,"labelFontSize":15,"format":".1f","values":[0,0.5,1,1.5,2,2.5]}}},"layer":[
{"data":{"values":[{"g":"Ctrl","v":1,"lo":0.88,"hi":1.11},{"g":"R","v":1.45,"lo":1.35,"hi":1.57},{"g":"P","v":0.93,"lo":0.68,"hi":1.2},{"g":"RP","v":1.31,"lo":1.2,"hi":1.42},{"g":"S","v":1.05,"lo":0.93,"hi":1.2},{"g":"SP","v":0.96,"lo":0.83,"hi":1.1},{"g":"RS","v":1.05,"lo":0.9,"hi":1.22},{"g":"RSP","v":0.93,"lo":0.8,"hi":1.08}]},"encoding":{"x":{"field":"g","type":"nominal","scale":{"type":"point","padding":0.68,"domain":["Ctrl","R","P","RP","S","SP","RS","RSP"]},"axis":{"title":null}}},"layer":[
{"mark":{"type":"bar","size":20,"stroke":"#111","strokeWidth":2.8},"encoding":{"color":{"field":"g","type":"nominal","legend":null}}},
{"mark":{"type":"rule","strokeWidth":2,"color":"#111"},"encoding":{"y":{"field":"lo","type":"quantitative"},"y2":{"field":"hi"}}},
{"mark":{"type":"tick","size":13,"thickness":2,"color":"#111"},"encoding":{"y":{"field":"hi","type":"quantitative"}}},
{"mark":{"type":"tick","size":13,"thickness":2,"color":"#111"},"encoding":{"y":{"field":"lo","type":"quantitative"}}}]},
{"data":{"values":[{"v":1}]},"mark":{"type":"rule","strokeDash":[6,4],"strokeWidth":2,"color":"#111"}},
{"data":{"values":[{"g":"Ctrl","v":1.58,"j":0},{"g":"Ctrl","v":1.41,"j":0},{"g":"Ctrl","v":0.98,"j":0},{"g":"Ctrl","v":0.9,"j":-6},{"g":"Ctrl","v":0.9,"j":6},{"g":"Ctrl","v":0.85,"j":-2},{"g":"Ctrl","v":0.75,"j":0},{"g":"Ctrl","v":0.7,"j":0},{"g":"R","v":1.74,"j":-8},{"g":"R","v":1.77,"j":0},{"g":"R","v":1.75,"j":8},{"g":"R","v":1.55,"j":0},{"g":"R","v":1.25,"j":0},{"g":"R","v":1.13,"j":-5},{"g":"R","v":1.13,"j":4},{"g":"P","v":1.8,"j":0},{"g":"P","v":1.73,"j":0},{"g":"P","v":0.63,"j":8},{"g":"P","v":0.58,"j":-5},{"g":"P","v":0.53,"j":8},{"g":"P","v":0.38,"j":0},{"g":"RP","v":1.84,"j":0},{"g":"RP","v":1.61,"j":0},{"g":"RP","v":1.48,"j":-6},{"g":"RP","v":1.42,"j":6},{"g":"RP","v":1.27,"j":0},{"g":"RP","v":1,"j":0},{"g":"RP","v":0.85,"j":0},{"g":"RP","v":0.79,"j":0},{"g":"S","v":1.58,"j":0},{"g":"S","v":1.34,"j":0},{"g":"S","v":1.28,"j":0},{"g":"S","v":1.18,"j":-2},{"g":"S","v":1.1,"j":3},{"g":"S","v":1.02,"j":8},{"g":"S","v":0.68,"j":0},{"g":"S","v":0.39,"j":0},{"g":"SP","v":1.47,"j":0},{"g":"SP","v":1.22,"j":0},{"g":"SP","v":1.14,"j":0},{"g":"SP","v":1.08,"j":0},{"g":"SP","v":0.78,"j":-6},{"g":"SP","v":0.78,"j":5},{"g":"SP","v":0.7,"j":0},{"g":"SP","v":0.59,"j":0},{"g":"RS","v":1.62,"j":-6},{"g":"RS","v":1.59,"j":6},{"g":"RS","v":1.02,"j":-6},{"g":"RS","v":1,"j":5},{"g":"RS","v":0.96,"j":2},{"g":"RS","v":0.73,"j":0},{"g":"RS","v":0.45,"j":0},{"g":"RSP","v":1.34,"j":0},{"g":"RSP","v":1.2,"j":0},{"g":"RSP","v":1.14,"j":-6},{"g":"RSP","v":1.08,"j":6},{"g":"RSP","v":1,"j":0},{"g":"RSP","v":0.45,"j":0},{"g":"RSP","v":0.38,"j":0}]},"mark":{"type":"point","filled":true,"fill":"#fff","stroke":"#111","strokeWidth":1.8,"size":42,"opacity":1},"encoding":{"x":{"field":"g","type":"nominal"},"xOffset":{"field":"j","type":"quantitative","scale":null}}},
{"data":{"values":[{"a":"R","b":"RSP","y":2.5,"d":2.15,"t":"*","ty":2.42},{"a":"Ctrl","b":"R","y":2.3,"d":2.22,"t":"*","ty":2.21}]},"layer":[
{"mark":{"type":"rule","strokeWidth":2,"color":"#111"},"encoding":{"x":{"field":"a","type":"nominal"},"x2":{"field":"b"},"y":{"field":"y","type":"quantitative"}}},
{"mark":{"type":"rule","strokeWidth":2,"color":"#111"},"encoding":{"x":{"field":"b","type":"nominal"},"y":{"field":"y","type":"quantitative"},"y2":{"field":"d"}}},
{"mark":{"type":"text","align":"left","fontSize":15,"dy":3},"encoding":{"x":{"field":"a","type":"nominal"},"y":{"field":"ty","type":"quantitative"},"text":{"field":"t"}}}]}
]},
{"data":{"values":[]},"mark":{"type":"point","opacity":0},"width":55,"height":1},
{"width":272,"height":227,"title":{"text":"Mo-Mac: PD-L1","offset":20},"encoding":{"y":{"field":"v","type":"quantitative","scale":{"domain":[0,2.5],"nice":false},"axis":{"title":null,"labelFontSize":15,"format":".1f","values":[0,0.5,1,1.5,2,2.5]}}},"layer":[
{"data":{"values":[{"g":"Ctrl","v":1,"lo":0.86,"hi":1.14},{"g":"R","v":1.54,"lo":1.37,"hi":1.7},{"g":"P","v":1,"lo":0.7,"hi":1.3},{"g":"RP","v":1.2,"lo":1.1,"hi":1.28},{"g":"S","v":1.06,"lo":0.93,"hi":1.2},{"g":"SP","v":0.9,"lo":0.78,"hi":1.05},{"g":"RS","v":1.12,"lo":0.96,"hi":1.3},{"g":"RSP","v":1,"lo":0.87,"hi":1.14}]},"encoding":{"x":{"field":"g","type":"nominal","scale":{"type":"point","padding":0.65,"domain":["Ctrl","R","P","RP","S","SP","RS","RSP"]},"axis":{"title":null}}},"layer":[
{"mark":{"type":"bar","size":20,"stroke":"#111","strokeWidth":2.8},"encoding":{"color":{"field":"g","type":"nominal","legend":null}}},
{"mark":{"type":"rule","strokeWidth":2,"color":"#111"},"encoding":{"y":{"field":"lo","type":"quantitative"},"y2":{"field":"hi"}}},
{"mark":{"type":"tick","size":13,"thickness":2,"color":"#111"},"encoding":{"y":{"field":"hi","type":"quantitative"}}},
{"mark":{"type":"tick","size":13,"thickness":2,"color":"#111"},"encoding":{"y":{"field":"lo","type":"quantitative"}}}]},
{"data":{"values":[{"v":1}]},"mark":{"type":"rule","strokeDash":[6,4],"strokeWidth":2,"color":"#111"}},
{"data":{"values":[{"g":"Ctrl","v":1.66,"j":0},{"g":"Ctrl","v":1.54,"j":0},{"g":"Ctrl","v":0.95,"j":-6},{"g":"Ctrl","v":0.93,"j":6},{"g":"Ctrl","v":0.9,"j":-3},{"g":"Ctrl","v":0.88,"j":4},{"g":"Ctrl","v":0.65,"j":0},{"g":"Ctrl","v":0.5,"j":0},{"g":"R","v":2.13,"j":-5},{"g":"R","v":2.11,"j":6},{"g":"R","v":1.55,"j":0},{"g":"R","v":1.38,"j":0},{"g":"R","v":1.3,"j":-5},{"g":"R","v":1.3,"j":6},{"g":"R","v":1.06,"j":0},{"g":"P","v":2.14,"j":0},{"g":"P","v":1.57,"j":0},{"g":"P","v":0.73,"j":-4},{"g":"P","v":0.73,"j":4},{"g":"P","v":0.52,"j":0},{"g":"P","v":0.39,"j":0},{"g":"RP","v":1.53,"j":0},{"g":"RP","v":1.38,"j":0},{"g":"RP","v":1.3,"j":-6},{"g":"RP","v":1.27,"j":5},{"g":"RP","v":1.2,"j":0},{"g":"RP","v":1.1,"j":-5},{"g":"RP","v":1.1,"j":5},{"g":"RP","v":1,"j":0},{"g":"RP","v":0.95,"j":-7},{"g":"S","v":1.52,"j":0},{"g":"S","v":1.39,"j":0},{"g":"S","v":1.33,"j":0},{"g":"S","v":1.1,"j":0},{"g":"S","v":1,"j":-3},{"g":"S","v":0.96,"j":0},{"g":"S","v":0.57,"j":-5},{"g":"S","v":0.58,"j":5},{"g":"SP","v":1.41,"j":-8},{"g":"SP","v":1.39,"j":3},{"g":"SP","v":1.1,"j":0},{"g":"SP","v":1,"j":0},{"g":"SP","v":0.7,"j":-7},{"g":"SP","v":0.65,"j":-2},{"g":"SP","v":0.67,"j":8},{"g":"SP","v":0.48,"j":0},{"g":"RS","v":1.89,"j":0},{"g":"RS","v":1.43,"j":0},{"g":"RS","v":1.15,"j":0},{"g":"RS","v":1,"j":-4},{"g":"RS","v":0.97,"j":0},{"g":"RS","v":0.9,"j":0},{"g":"RS","v":0.58,"j":0},{"g":"RSP","v":1.29,"j":-3},{"g":"RSP","v":1.26,"j":2},{"g":"RSP","v":1.25,"j":7},{"g":"RSP","v":1.24,"j":-3},{"g":"RSP","v":1.02,"j":0},{"g":"RSP","v":0.56,"j":0},{"g":"RSP","v":0.44,"j":0}]},"mark":{"type":"point","filled":true,"fill":"#fff","stroke":"#111","strokeWidth":1.8,"size":42,"opacity":1},"encoding":{"x":{"field":"g","type":"nominal"},"xOffset":{"field":"j","type":"quantitative","scale":null}}},
{"data":{"values":[{"a":"R","b":"RSP","y":2.5,"d":2.14,"t":"*","ty":2.39},{"a":"Ctrl","b":"R","y":2.3,"d":2.25,"t":"*","ty":2.21}]},"layer":[
{"mark":{"type":"rule","strokeWidth":2,"color":"#111"},"encoding":{"x":{"field":"a","type":"nominal"},"x2":{"field":"b"},"y":{"field":"y","type":"quantitative"}}},
{"mark":{"type":"rule","strokeWidth":2,"color":"#111"},"encoding":{"x":{"field":"b","type":"nominal"},"y":{"field":"y","type":"quantitative"},"y2":{"field":"d"}}},
{"mark":{"type":"text","align":"left","fontSize":15,"dy":3},"encoding":{"x":{"field":"a","type":"nominal"},"y":{"field":"ty","type":"quantitative"},"text":{"field":"t"}}}]}
]}]},
{"data":{"values":[]},"mark":{"type":"point","opacity":0},"width":1,"height":334},
{"bounds":"flush","spacing":0,"hconcat":[
{"width":273,"height":227,"title":{"text":"DC: Arg1","offset":19},"encoding":{"y":{"field":"v","type":"quantitative","scale":{"domain":[0,4],"nice":false},"axis":{"title":"MFI ratio (relative to ctrl)","titleX":-35,"titleFontSize":17.5,"labelFontSize":15,"values":[0,1,2,3,4]}}},"layer":[
{"data":{"values":[{"g":"Ctrl","v":1,"lo":0.8,"hi":1.2},{"g":"R","v":1.78,"lo":1.6,"hi":1.98},{"g":"P","v":1.2,"lo":0.7,"hi":1.77},{"g":"RP","v":1.65,"lo":1.45,"hi":1.82},{"g":"S","v":1.23,"lo":1,"hi":1.48},{"g":"SP","v":1.33,"lo":1,"hi":1.65},{"g":"RS","v":1.2,"lo":0.97,"hi":1.46},{"g":"RSP","v":0.83,"lo":0.63,"hi":1.05}]},"encoding":{"x":{"field":"g","type":"nominal","scale":{"type":"point","padding":0.68,"domain":["Ctrl","R","P","RP","S","SP","RS","RSP"]},"axis":{"title":null}}},"layer":[
{"mark":{"type":"bar","size":20,"stroke":"#111","strokeWidth":2.8},"encoding":{"color":{"field":"g","type":"nominal","legend":null}}},
{"mark":{"type":"rule","strokeWidth":2,"color":"#111"},"encoding":{"y":{"field":"lo","type":"quantitative"},"y2":{"field":"hi"}}},
{"mark":{"type":"tick","size":13,"thickness":2,"color":"#111"},"encoding":{"y":{"field":"hi","type":"quantitative"}}},
{"mark":{"type":"tick","size":13,"thickness":2,"color":"#111"},"encoding":{"y":{"field":"lo","type":"quantitative"}}}]},
{"data":{"values":[{"v":1}]},"mark":{"type":"rule","strokeDash":[6,4],"strokeWidth":2,"color":"#111"}},
{"data":{"values":[{"g":"Ctrl","v":2.08,"j":0},{"g":"Ctrl","v":1.6,"j":0},{"g":"Ctrl","v":1.15,"j":0},{"g":"Ctrl","v":0.98,"j":0},{"g":"Ctrl","v":0.8,"j":-6},{"g":"Ctrl","v":0.75,"j":5},{"g":"Ctrl","v":0.6,"j":5},{"g":"Ctrl","v":0.37,"j":-6},{"g":"Ctrl","v":0.44,"j":5},{"g":"R","v":2.52,"j":0},{"g":"R","v":2.35,"j":0},{"g":"R","v":2.05,"j":0},{"g":"R","v":1.6,"j":-5},{"g":"R","v":1.55,"j":5},{"g":"R","v":1.45,"j":0},{"g":"R","v":1.3,"j":0},{"g":"R","v":1.2,"j":0},{"g":"P","v":3.6,"j":0},{"g":"P","v":1.77,"j":0},{"g":"P","v":0.68,"j":4},{"g":"P","v":0.57,"j":-5},{"g":"P","v":0.45,"j":0},{"g":"P","v":0.33,"j":0},{"g":"RP","v":2.64,"j":0},{"g":"RP","v":2.14,"j":0},{"g":"RP","v":1.87,"j":-8},{"g":"RP","v":1.83,"j":-3},{"g":"RP","v":1.93,"j":8},{"g":"RP","v":1.87,"j":4},{"g":"RP","v":1.05,"j":0},{"g":"RP","v":0.88,"j":-1},{"g":"RP","v":0.82,"j":3},{"g":"S","v":2.33,"j":0},{"g":"S","v":1.75,"j":0},{"g":"S","v":1.5,"j":5},{"g":"S","v":1.43,"j":-4},{"g":"S","v":1.45,"j":5},{"g":"S","v":0.72,"j":-6},{"g":"S","v":0.67,"j":5},{"g":"S","v":0.2,"j":0},{"g":"SP","v":2.85,"j":0},{"g":"SP","v":1.8,"j":-6},{"g":"SP","v":1.77,"j":5},{"g":"SP","v":1.65,"j":0},{"g":"SP","v":1.05,"j":0},{"g":"SP","v":0.72,"j":-6},{"g":"SP","v":0.72,"j":5},{"g":"SP","v":0.23,"j":0},{"g":"RS","v":2.24,"j":0},{"g":"RS","v":1.83,"j":0},{"g":"RS","v":1,"j":-5},{"g":"RS","v":0.98,"j":5},{"g":"RS","v":0.65,"j":0},{"g":"RS","v":0.53,"j":0},{"g":"RSP","v":1.62,"j":0},{"g":"RSP","v":1.3,"j":0},{"g":"RSP","v":1.05,"j":0},{"g":"RSP","v":0.95,"j":0},{"g":"RSP","v":0.27,"j":0},{"g":"RSP","v":0.03,"j":0}]},"mark":{"type":"point","filled":true,"fill":"#fff","stroke":"#111","strokeWidth":1.8,"size":42,"opacity":1},"encoding":{"x":{"field":"g","type":"nominal"},"xOffset":{"field":"j","type":"quantitative","scale":null}}},
{"data":{"values":[{"a":"R","b":"RSP","y":3.98,"d":3.41,"t":"*","ty":3.86},{"a":"Ctrl","b":"R","y":3.73,"d":3.17,"t":"*","ty":3.59}]},"layer":[
{"mark":{"type":"rule","strokeWidth":2,"color":"#111"},"encoding":{"x":{"field":"a","type":"nominal"},"x2":{"field":"b"},"y":{"field":"y","type":"quantitative"}}},
{"mark":{"type":"rule","strokeWidth":2,"color":"#111"},"encoding":{"x":{"field":"b","type":"nominal"},"y":{"field":"y","type":"quantitative"},"y2":{"field":"d"}}},
{"mark":{"type":"text","align":"left","fontSize":15,"dy":3},"encoding":{"x":{"field":"a","type":"nominal"},"y":{"field":"ty","type":"quantitative"},"text":{"field":"t"}}}]}
]},
{"data":{"values":[]},"mark":{"type":"point","opacity":0},"width":55,"height":1},
{"width":272,"height":227,"title":{"text":"Mo-Mac: Arg1","offset":19},"encoding":{"y":{"field":"v","type":"quantitative","scale":{"domain":[0,4],"nice":false},"axis":{"title":null,"labelFontSize":15,"values":[0,1,2,3,4]}}},"layer":[
{"data":{"values":[{"g":"Ctrl","v":1,"lo":0.65,"hi":1.36},{"g":"R","v":2.12,"lo":1.74,"hi":2.52},{"g":"P","v":1.19,"lo":0.62,"hi":1.78},{"g":"RP","v":1.67,"lo":1.47,"hi":1.86},{"g":"S","v":1.35,"lo":1.05,"hi":1.67},{"g":"SP","v":1.04,"lo":0.78,"hi":1.32},{"g":"RS","v":1.56,"lo":1.33,"hi":1.81},{"g":"RSP","v":1,"lo":0.72,"hi":1.28}]},"encoding":{"x":{"field":"g","type":"nominal","scale":{"type":"point","padding":0.65,"domain":["Ctrl","R","P","RP","S","SP","RS","RSP"]},"axis":{"title":null}}},"layer":[
{"mark":{"type":"bar","size":20,"stroke":"#111","strokeWidth":2.8},"encoding":{"color":{"field":"g","type":"nominal","legend":null}}},
{"mark":{"type":"rule","strokeWidth":2,"color":"#111"},"encoding":{"y":{"field":"lo","type":"quantitative"},"y2":{"field":"hi"}}},
{"mark":{"type":"tick","size":13,"thickness":2,"color":"#111"},"encoding":{"y":{"field":"hi","type":"quantitative"}}},
{"mark":{"type":"tick","size":13,"thickness":2,"color":"#111"},"encoding":{"y":{"field":"lo","type":"quantitative"}}}]},
{"data":{"values":[{"v":1}]},"mark":{"type":"rule","strokeDash":[6,4],"strokeWidth":2,"color":"#111"}},
{"data":{"values":[{"g":"Ctrl","v":3.22,"j":0},{"g":"Ctrl","v":1.52,"j":0},{"g":"Ctrl","v":1.08,"j":0},{"g":"Ctrl","v":0.78,"j":0},{"g":"Ctrl","v":0.55,"j":5},{"g":"Ctrl","v":0.48,"j":-5},{"g":"Ctrl","v":0.28,"j":0},{"g":"Ctrl","v":0.08,"j":0},{"g":"R","v":3.58,"j":0},{"g":"R","v":3.3,"j":0},{"g":"R","v":2.57,"j":0},{"g":"R","v":1.65,"j":0},{"g":"R","v":1.47,"j":0},{"g":"R","v":1.32,"j":0},{"g":"R","v":1.03,"j":0},{"g":"P","v":3.88,"j":0},{"g":"P","v":1.73,"j":0},{"g":"P","v":0.8,"j":0},{"g":"P","v":0.33,"j":-5},{"g":"P","v":0.3,"j":5},{"g":"P","v":0.12,"j":0},{"g":"RP","v":2.68,"j":0},{"g":"RP","v":2.5,"j":0},{"g":"RP","v":1.8,"j":0},{"g":"RP","v":1.6,"j":-7},{"g":"RP","v":1.55,"j":1},{"g":"RP","v":1.55,"j":7},{"g":"RP","v":1.35,"j":9},{"g":"RP","v":1.05,"j":0},{"g":"S","v":2.48,"j":0},{"g":"S","v":2.1,"j":0},{"g":"S","v":1.78,"j":-7},{"g":"S","v":1.7,"j":0},{"g":"S","v":1.78,"j":7},{"g":"S","v":0.55,"j":0},{"g":"S","v":0.37,"j":0},{"g":"S","v":0.15,"j":0},{"g":"SP","v":2.27,"j":0},{"g":"SP","v":1.97,"j":0},{"g":"SP","v":1.46,"j":0},{"g":"SP","v":0.9,"j":0},{"g":"SP","v":0.85,"j":-1},{"g":"SP","v":0.53,"j":-5},{"g":"SP","v":0.47,"j":5},{"g":"SP","v":0.13,"j":0},{"g":"RS","v":2.58,"j":0},{"g":"RS","v":2.12,"j":0},{"g":"RS","v":1.62,"j":0},{"g":"RS","v":1.55,"j":-5},{"g":"RS","v":1.52,"j":5},{"g":"RS","v":0.85,"j":-5},{"g":"RS","v":0.88,"j":5},{"g":"RSP","v":2.14,"j":0},{"g":"RSP","v":1.47,"j":0},{"g":"RSP","v":1.17,"j":0},{"g":"RSP","v":1,"j":0},{"g":"RSP","v":0.75,"j":0},{"g":"RSP","v":0.4,"j":0},{"g":"RSP","v":0.02,"j":0}]},"mark":{"type":"point","filled":true,"fill":"#fff","stroke":"#111","strokeWidth":1.8,"size":42,"opacity":1},"encoding":{"x":{"field":"g","type":"nominal"},"xOffset":{"field":"j","type":"quantitative","scale":null}}},
{"data":{"values":[{"a":"R","b":"RSP","y":4,"d":3.41,"t":"","ty":3.86},{"a":"Ctrl","b":"R","y":3.84,"d":3.71,"t":"*","ty":3.69}]},"layer":[
{"mark":{"type":"rule","strokeWidth":2,"color":"#111"},"encoding":{"x":{"field":"a","type":"nominal"},"x2":{"field":"b"},"y":{"field":"y","type":"quantitative"}}},
{"mark":{"type":"rule","strokeWidth":2,"color":"#111"},"encoding":{"x":{"field":"b","type":"nominal"},"y":{"field":"y","type":"quantitative"},"y2":{"field":"d"}}},
{"mark":{"type":"text","align":"left","fontSize":15,"dy":3},"encoding":{"x":{"field":"a","type":"nominal"},"y":{"field":"ty","type":"quantitative"},"text":{"field":"t"}}}]},
{"data":{"values":[{"g":"RSP","v":3.23,"t":"0.064"}]},"mark":{"type":"text","fontSize":13,"fontWeight":"bold","dx":-6},"encoding":{"x":{"field":"g","type":"nominal"},"text":{"field":"t"}}}
]}]},
{"data":{"values":[{"t":"E"}]},"mark":{"type":"text","fontSize":30,"fontWeight":"bold","dx":-71,"dy":128},"encoding":{"text":{"field":"t"}},"width":1,"height":358},
{"bounds":"flush","spacing":0,"hconcat":[
{"width":275,"height":224,"title":{"text":"F4/80⁺CD206⁺ M2 MΦ","offset":20},"encoding":{"y":{"field":"v","type":"quantitative","scale":{"domain":[0,60],"nice":false},"axis":{"title":"%","titleX":-44,"titleFontSize":18.5,"labelFontSize":15,"values":[0,20,40,60]}}},"layer":[
{"data":{"values":[{"g":"Ctrl","v":21,"lo":18.9,"hi":23.9},{"g":"R","v":10.8,"lo":8.4,"hi":13.2},{"g":"P","v":22.6,"lo":18,"hi":27.6},{"g":"RP","v":10.5,"lo":8.4,"hi":12.7},{"g":"S","v":22.8,"lo":20,"hi":25.8},{"g":"SP","v":26,"lo":23.5,"hi":28.9},{"g":"RS","v":12.7,"lo":10.4,"hi":14.9},{"g":"RSP","v":13.7,"lo":11.5,"hi":16.2}]},"encoding":{"x":{"field":"g","type":"nominal","scale":{"type":"point","padding":0.65,"domain":["Ctrl","R","P","RP","S","SP","RS","RSP"]},"axis":{"title":null}}},"layer":[
{"mark":{"type":"bar","size":20,"stroke":"#111","strokeWidth":2.8},"encoding":{"color":{"field":"g","type":"nominal","legend":null}}},
{"mark":{"type":"rule","strokeWidth":2,"color":"#111"},"encoding":{"y":{"field":"lo","type":"quantitative"},"y2":{"field":"hi"}}},
{"mark":{"type":"tick","size":13,"thickness":2,"color":"#111"},"encoding":{"y":{"field":"hi","type":"quantitative"}}},
{"mark":{"type":"tick","size":13,"thickness":2,"color":"#111"},"encoding":{"y":{"field":"lo","type":"quantitative"}}}]},
{"data":{"values":[{"g":"Ctrl","v":41.5,"j":0},{"g":"Ctrl","v":30,"j":-8},{"g":"Ctrl","v":29.2,"j":-2},{"g":"Ctrl","v":29.8,"j":3},{"g":"Ctrl","v":23,"j":-8},{"g":"Ctrl","v":22.8,"j":0},{"g":"Ctrl","v":22.8,"j":8},{"g":"Ctrl","v":21.5,"j":0},{"g":"Ctrl","v":19,"j":0},{"g":"Ctrl","v":17,"j":-2},{"g":"Ctrl","v":16.5,"j":3},{"g":"Ctrl","v":11.5,"j":0},{"g":"Ctrl","v":10,"j":0},{"g":"Ctrl","v":2.5,"j":0},{"g":"R","v":31.5,"j":0},{"g":"R","v":22.4,"j":0},{"g":"R","v":19.8,"j":0},{"g":"R","v":14.3,"j":0},{"g":"R","v":9.9,"j":-5},{"g":"R","v":9.5,"j":3},{"g":"R","v":8.9,"j":-7},{"g":"R","v":8.3,"j":2},{"g":"R","v":7.8,"j":8},{"g":"R","v":6.7,"j":-8},{"g":"R","v":6.5,"j":8},{"g":"R","v":4.2,"j":0},{"g":"R","v":3,"j":8},{"g":"R","v":2.2,"j":-8},{"g":"P","v":42.3,"j":0},{"g":"P","v":33.4,"j":0},{"g":"P","v":26.5,"j":0},{"g":"P","v":25.5,"j":0},{"g":"P","v":19.3,"j":0},{"g":"P","v":14,"j":-5},{"g":"P","v":14,"j":5},{"g":"P","v":11.9,"j":-4},{"g":"P","v":12,"j":5},{"g":"P","v":9.8,"j":0},{"g":"P","v":5.9,"j":0},{"g":"RP","v":26.2,"j":0},{"g":"RP","v":21.7,"j":0},{"g":"RP","v":17.2,"j":0},{"g":"RP","v":15.2,"j":0},{"g":"RP","v":12.7,"j":0},{"g":"RP","v":9.3,"j":-5},{"g":"RP","v":8.3,"j":3},{"g":"RP","v":7.5,"j":-8},{"g":"RP","v":7.2,"j":-1},{"g":"RP","v":7,"j":8},{"g":"RP","v":5.6,"j":-6},{"g":"RP","v":5,"j":3},{"g":"RP","v":4.8,"j":8},{"g":"RP","v":3,"j":0},{"g":"S","v":38.9,"j":0},{"g":"S","v":32,"j":-8},{"g":"S","v":30.9,"j":-8},{"g":"S","v":31.6,"j":-1},{"g":"S","v":31.8,"j":7},{"g":"S","v":24,"j":-8},{"g":"S","v":23,"j":0},{"g":"S","v":22.8,"j":8},{"g":"S","v":19.5,"j":0},{"g":"S","v":17,"j":0},{"g":"S","v":14.7,"j":0},{"g":"S","v":10.4,"j":0},{"g":"S","v":7.5,"j":0},{"g":"SP","v":41.2,"j":-8},{"g":"SP","v":40,"j":0},{"g":"SP","v":36.4,"j":0},{"g":"SP","v":33.8,"j":-8},{"g":"SP","v":32.6,"j":0},{"g":"SP","v":34.2,"j":8},{"g":"SP","v":31,"j":0},{"g":"SP","v":22,"j":-8},{"g":"SP","v":22.5,"j":0},{"g":"SP","v":21,"j":8},{"g":"SP","v":19.5,"j":0},{"g":"SP","v":18.5,"j":8},{"g":"SP","v":17.3,"j":0},{"g":"SP","v":14.7,"j":0},{"g":"SP","v":9.4,"j":0},{"g":"RS","v":31.3,"j":0},{"g":"RS","v":25.9,"j":0},{"g":"RS","v":17,"j":-8},{"g":"RS","v":15.4,"j":-1},{"g":"RS","v":15.9,"j":8},{"g":"RS","v":14,"j":0},{"g":"RS","v":10.5,"j":0},{"g":"RS","v":9.5,"j":-2},{"g":"RS","v":4.7,"j":-8},{"g":"RS","v":4.7,"j":7},{"g":"RS","v":3.5,"j":0},{"g":"RS","v":2.3,"j":0},{"g":"RSP","v":29.2,"j":0},{"g":"RSP","v":26.4,"j":0},{"g":"RSP","v":22,"j":8},{"g":"RSP","v":20.7,"j":0},{"g":"RSP","v":20.3,"j":-8},{"g":"RSP","v":18.3,"j":-8},{"g":"RSP","v":18,"j":8},{"g":"RSP","v":12,"j":-6},{"g":"RSP","v":12,"j":2},{"g":"RSP","v":10,"j":0},{"g":"RSP","v":8,"j":0},{"g":"RSP","v":5.3,"j":-1},{"g":"RSP","v":3.3,"j":-8},{"g":"RSP","v":3.3,"j":3}]},"mark":{"type":"point","filled":true,"fill":"#fff","stroke":"#111","strokeWidth":1.8,"size":42,"opacity":1},"encoding":{"x":{"field":"g","type":"nominal"},"xOffset":{"field":"j","type":"quantitative","scale":null}}},
{"data":{"values":[{"a":"Ctrl","b":"RSP","y":59.8,"d":42.4,"t":"*","ty":57.9},{"a":"P","b":"RSP","y":58.8,"d":42.4,"t":"*","ty":56.7},{"a":"S","b":"RSP","y":57.8,"d":42.4,"t":"*","ty":55.7},{"a":"SP","b":"RSP","y":56.8,"d":42.4,"t":"***","ty":54.7},{"a":"Ctrl","b":"RS","y":53.3,"d":41,"t":"*","ty":51.4},{"a":"S","b":"RS","y":52.1,"d":41,"t":"**","ty":50.4},{"a":"Ctrl","b":"RP","y":49.8,"d":39.1,"t":"*","ty":47.9},{"a":"P","b":"RP","y":48.8,"d":39.1,"t":"**","ty":47.1},{"a":"Ctrl","b":"R","y":46.3,"d":38.7,"t":"**","ty":44.1}]},"layer":[
{"mark":{"type":"rule","strokeWidth":2,"color":"#111"},"encoding":{"x":{"field":"a","type":"nominal"},"x2":{"field":"b"},"y":{"field":"y","type":"quantitative"}}},
{"mark":{"type":"rule","strokeWidth":2,"color":"#111"},"encoding":{"x":{"field":"b","type":"nominal"},"y":{"field":"y","type":"quantitative"},"y2":{"field":"d"}}},
{"mark":{"type":"text","align":"left","fontSize":15,"dy":3},"encoding":{"x":{"field":"a","type":"nominal"},"y":{"field":"ty","type":"quantitative"},"text":{"field":"t"}}}]}
]},
{"data":{"values":[]},"mark":{"type":"point","opacity":0},"width":50,"height":1},
{"width":275,"height":224,"title":{"text":"M-MDSC/ CD45⁺","offset":20},"encoding":{"y":{"field":"v","type":"quantitative","scale":{"domain":[0,40],"nice":false},"axis":{"title":null,"labelFontSize":15,"values":[0,10,20,30,40]}}},"layer":[
{"data":{"values":[{"g":"Ctrl","v":11.4,"lo":10.2,"hi":12.6},{"g":"R","v":17,"lo":14.8,"hi":19.3},{"g":"P","v":12.3,"lo":10.6,"hi":14},{"g":"RP","v":14.8,"lo":12.8,"hi":17},{"g":"S","v":8.7,"lo":7.6,"hi":9.8},{"g":"SP","v":10.6,"lo":9.2,"hi":12.4},{"g":"RS","v":14.5,"lo":12.7,"hi":16.3},{"g":"RSP","v":13.4,"lo":11.4,"hi":15.6}]},"encoding":{"x":{"field":"g","type":"nominal","scale":{"type":"point","padding":0.65,"domain":["Ctrl","R","P","RP","S","SP","RS","RSP"]},"axis":{"title":null}}},"layer":[
{"mark":{"type":"bar","size":20,"stroke":"#111","strokeWidth":2.8},"encoding":{"color":{"field":"g","type":"nominal","legend":null}}},
{"mark":{"type":"rule","strokeWidth":2,"color":"#111"},"encoding":{"y":{"field":"lo","type":"quantitative"},"y2":{"field":"hi"}}},
{"mark":{"type":"tick","size":13,"thickness":2,"color":"#111"},"encoding":{"y":{"field":"hi","type":"quantitative"}}},
{"mark":{"type":"tick","size":13,"thickness":2,"color":"#111"},"encoding":{"y":{"field":"lo","type":"quantitative"}}}]},
{"data":{"values":[{"g":"Ctrl","v":18.2,"j":8},{"g":"Ctrl","v":18,"j":2},{"g":"Ctrl","v":17.8,"j":-8},{"g":"Ctrl","v":16.3,"j":0},{"g":"Ctrl","v":14.5,"j":0},{"g":"Ctrl","v":13,"j":-3},{"g":"Ctrl","v":12.8,"j":3},{"g":"Ctrl","v":12,"j":4},{"g":"Ctrl","v":11.7,"j":8},{"g":"Ctrl","v":11.2,"j":0},{"g":"Ctrl","v":8.5,"j":0},{"g":"Ctrl","v":7.5,"j":-5},{"g":"Ctrl","v":6.7,"j":3},{"g":"Ctrl","v":6.2,"j":-5},{"g":"Ctrl","v":4.5,"j":0},{"g":"Ctrl","v":2.1,"j":0},{"g":"R","v":29.5,"j":0},{"g":"R","v":28,"j":0},{"g":"R","v":24.3,"j":-5},{"g":"R","v":24.2,"j":5},{"g":"R","v":21.6,"j":0},{"g":"R","v":18,"j":0},{"g":"R","v":16.5,"j":-3},{"g":"R","v":16,"j":6},{"g":"R","v":15.8,"j":-7},{"g":"R","v":13.2,"j":0},{"g":"R","v":11.4,"j":4},{"g":"R","v":10.8,"j":-5},{"g":"R","v":8.8,"j":0},{"g":"R","v":3.1,"j":0},{"g":"P","v":19,"j":5},{"g":"P","v":18.8,"j":-3},{"g":"P","v":17.8,"j":-8},{"g":"P","v":17.5,"j":0},{"g":"P","v":17.5,"j":7},{"g":"P","v":15,"j":5},{"g":"P","v":14.2,"j":0},{"g":"P","v":11,"j":-5},{"g":"P","v":10.6,"j":2},{"g":"P","v":10,"j":6},{"g":"P","v":4.6,"j":0},{"g":"P","v":3,"j":0},{"g":"P","v":1.1,"j":0},{"g":"RP","v":25.7,"j":0},{"g":"RP","v":24,"j":5},{"g":"RP","v":23.4,"j":-7},{"g":"RP","v":21.6,"j":0},{"g":"RP","v":19.5,"j":0},{"g":"RP","v":16.4,"j":-7},{"g":"RP","v":16.3,"j":2},{"g":"RP","v":15.5,"j":0},{"g":"RP","v":14.3,"j":0},{"g":"RP","v":13.4,"j":0},{"g":"RP","v":10,"j":-7},{"g":"RP","v":9.3,"j":5},{"g":"RP","v":3.3,"j":5},{"g":"RP","v":2.5,"j":-5},{"g":"S","v":15.7,"j":0},{"g":"S","v":11.1,"j":-8},{"g":"S","v":11.2,"j":0},{"g":"S","v":11.6,"j":8},{"g":"S","v":9.5,"j":0},{"g":"S","v":8.8,"j":-4},{"g":"S","v":8.6,"j":4},{"g":"S","v":8.3,"j":-8},{"g":"S","v":8.2,"j":8},{"g":"S","v":7.7,"j":-5},{"g":"S","v":7.5,"j":0},{"g":"S","v":3,"j":-4},{"g":"S","v":3.1,"j":4},{"g":"SP","v":19.2,"j":0},{"g":"SP","v":18.2,"j":-3},{"g":"SP","v":17.8,"j":3},{"g":"SP","v":16,"j":-3},{"g":"SP","v":16,"j":3},{"g":"SP","v":14.5,"j":0},{"g":"SP","v":12.5,"j":0},{"g":"SP","v":10.8,"j":0},{"g":"SP","v":9.5,"j":0},{"g":"SP","v":8.8,"j":-5},{"g":"SP","v":7.9,"j":-8},{"g":"SP","v":7.8,"j":0},{"g":"SP","v":7.5,"j":5},{"g":"SP","v":6.6,"j":8},{"g":"SP","v":5.6,"j":0},{"g":"SP","v":1.5,"j":0},{"g":"RS","v":24.2,"j":0},{"g":"RS","v":20.4,"j":0},{"g":"RS","v":19.8,"j":-8},{"g":"RS","v":19.5,"j":6},{"g":"RS","v":18,"j":0},{"g":"RS","v":17.8,"j":0},{"g":"RS","v":13,"j":0},{"g":"RS","v":11.3,"j":0},{"g":"RS","v":9.7,"j":0},{"g":"RS","v":8.4,"j":8},{"g":"RS","v":7.9,"j":0},{"g":"RS","v":4.5,"j":0},{"g":"RSP","v":29,"j":0},{"g":"RSP","v":22,"j":3},{"g":"RSP","v":21.4,"j":7},{"g":"RSP","v":20.5,"j":-2},{"g":"RSP","v":20.3,"j":-3},{"g":"RSP","v":19.6,"j":0},{"g":"RSP","v":13,"j":0},{"g":"RSP","v":11,"j":0},{"g":"RSP","v":9.6,"j":-8},{"g":"RSP","v":9.2,"j":0},{"g":"RSP","v":8.8,"j":7},{"g":"RSP","v":6.8,"j":0},{"g":"RSP","v":4.4,"j":0},{"g":"RSP","v":0.1,"j":0}]},"mark":{"type":"point","filled":true,"fill":"#fff","stroke":"#111","strokeWidth":1.8,"size":42,"opacity":1},"encoding":{"x":{"field":"g","type":"nominal"},"xOffset":{"field":"j","type":"quantitative","scale":null}}},
{"data":{"values":[{"a":"Ctrl","b":"R","y":40.2,"d":35.2,"t":"*","ty":38.9}]},"layer":[
{"mark":{"type":"rule","strokeWidth":2,"color":"#111"},"encoding":{"x":{"field":"a","type":"nominal"},"x2":{"field":"b"},"y":{"field":"y","type":"quantitative"}}},
{"mark":{"type":"rule","strokeWidth":2,"color":"#111"},"encoding":{"x":{"field":"b","type":"nominal"},"y":{"field":"y","type":"quantitative"},"y2":{"field":"d"}}},
{"mark":{"type":"text","align":"left","fontSize":15,"dy":3},"encoding":{"x":{"field":"a","type":"nominal"},"y":{"field":"ty","type":"quantitative"},"text":{"field":"t"}}}]}
]}]}
]},
{"data":{"values":[]},"mark":{"type":"point","opacity":0},"width":654,"height":1},
{"bounds":"flush","spacing":0,"vconcat":[
{"bounds":"flush","spacing":0,"hconcat":[
{"data":{"values":[]},"mark":{"type":"point","opacity":0},"width":27,"height":1},
{"width":95,"height":16,"view":{"stroke":"#111","strokeWidth":1.5},"data":{"values":[{"z":-1.8,"z2":-1.6},{"z":-1.6,"z2":-1.4},{"z":-1.4,"z2":-1.2},{"z":-1.2,"z2":-1},{"z":-1,"z2":-0.8},{"z":-0.8,"z2":-0.6},{"z":-0.6,"z2":-0.4},{"z":-0.4,"z2":-0.2},{"z":-0.2,"z2":0},{"z":0,"z2":0.2},{"z":0.2,"z2":0.4},{"z":0.4,"z2":0.6},{"z":0.6,"z2":0.8},{"z":0.8,"z2":1},{"z":1,"z2":1.2},{"z":1.2,"z2":1.4},{"z":1.4,"z2":1.6},{"z":1.6,"z2":1.8}]},"layer":[
{"mark":{"type":"rect"},"encoding":{"x":{"field":"z","type":"quantitative","scale":{"domain":[-1.79,1.77],"nice":false},"axis":{"title":"Z-Score","titleFont":"Lato","titleFontWeight":"normal","titleFontSize":19,"titlePadding":4,"domain":false,"tickSize":4,"tickWidth":1.5,"values":[-1,0,1],"format":"d","labelAngle":0,"labelFont":"Lato","labelFontWeight":"normal","labelFontSize":19}},"x2":{"field":"z2"},"fill":{"field":"z","type":"quantitative","scale":{"domain":[-1.8,-0.9,0,0.45,0.9,1.8],"range":["#2166ac","#92c5de","#f7f7f7","#fddbc7","#f4a582","#b2182b"]},"legend":null}}},
{"data":{"values":[{"t":"F","z":-1.79}]},"mark":{"type":"text","fontSize":30,"fontWeight":"bold","dx":-44,"dy":3},"encoding":{"x":{"field":"z","type":"quantitative"},"text":{"field":"t"}}}]}
]},
{"data":{"values":[]},"mark":{"type":"point","opacity":0},"width":1,"height":56},
{"bounds":"flush","spacing":0,"hconcat":[
{"width":223,"height":331,"data":{"values":[{"x":337,"x2":337,"y":0.5,"y2":1.5},{"x":337,"x2":380,"y":0.5,"y2":0.5},{"x":337,"x2":380,"y":1.5,"y2":1.5},{"x":275,"x2":275,"y":1,"y2":2.5},{"x":275,"x2":337,"y":1,"y2":1},{"x":275,"x2":380,"y":2.5,"y2":2.5},{"x":338,"x2":338,"y":3.5,"y2":4.5},{"x":338,"x2":380,"y":3.5,"y2":3.5},{"x":338,"x2":380,"y":4.5,"y2":4.5},{"x":198,"x2":198,"y":1.75,"y2":4},{"x":198,"x2":275,"y":1.75,"y2":1.75},{"x":198,"x2":338,"y":4,"y2":4},{"x":309,"x2":309,"y":5.5,"y2":6.5},{"x":309,"x2":380,"y":5.5,"y2":5.5},{"x":309,"x2":380,"y":6.5,"y2":6.5},{"x":271,"x2":271,"y":6,"y2":7.5},{"x":271,"x2":309,"y":6,"y2":6},{"x":271,"x2":380,"y":7.5,"y2":7.5},{"x":211,"x2":211,"y":6.75,"y2":8.5},{"x":211,"x2":271,"y":6.75,"y2":6.75},{"x":211,"x2":380,"y":8.5,"y2":8.5},{"x":62,"x2":62,"y":2.87,"y2":7.6},{"x":62,"x2":198,"y":2.87,"y2":2.87},{"x":62,"x2":211,"y":7.6,"y2":7.6},{"x":30,"x2":30,"y":5.25,"y2":9.5},{"x":30,"x2":62,"y":5.25,"y2":5.25},{"x":30,"x2":380,"y":9.5,"y2":9.5}]},"mark":{"type":"rule","strokeWidth":1.7,"color":"#111"},"encoding":{"x":{"field":"x","type":"quantitative","scale":{"domain":[30,380],"nice":false,"zero":false},"axis":null},"x2":{"field":"x2"},"y":{"field":"y","type":"quantitative","scale":{"domain":[10,0],"nice":false},"axis":null},"y2":{"field":"y2"}}},
{"data":{"values":[]},"mark":{"type":"point","opacity":0},"width":13,"height":1},
{"width":266,"height":331,"title":{"text":"CD11b⁻CD11c⁺ DC","orient":"bottom","offset":6,"fontSize":18},"data":{"values":[{"c":"Ctrl","t":"Defense response to bacterium","z":-1.8},{"c":"R","t":"Defense response to bacterium","z":0.28},{"c":"RP","t":"Defense response to bacterium","z":0.38},{"c":"RS","t":"Defense response to bacterium","z":0.5},{"c":"RSP","t":"Defense response to bacterium","z":0.62},{"c":"Ctrl","t":"Cytokine receptor activity","z":-1.8},{"c":"R","t":"Cytokine receptor activity","z":0.38},{"c":"RP","t":"Cytokine receptor activity","z":0.38},{"c":"RS","t":"Cytokine receptor activity","z":0.35},{"c":"RSP","t":"Cytokine receptor activity","z":0.6},{"c":"Ctrl","t":"Interleukin 12 production","z":-1.8},{"c":"R","t":"Interleukin 12 production","z":0.3},{"c":"RP","t":"Interleukin 12 production","z":0.15},{"c":"RS","t":"Interleukin 12 production","z":0.7},{"c":"RSP","t":"Interleukin 12 production","z":0.75},{"c":"Ctrl","t":"Molecular transducer activity","z":-1.8},{"c":"R","t":"Molecular transducer activity","z":0.5},{"c":"RP","t":"Molecular transducer activity","z":0.3},{"c":"RS","t":"Molecular transducer activity","z":0.35},{"c":"RSP","t":"Molecular transducer activity","z":0.62},{"c":"Ctrl","t":"Protein complex oligomerization","z":-1.8},{"c":"R","t":"Protein complex oligomerization","z":0.65},{"c":"RP","t":"Protein complex oligomerization","z":0.3},{"c":"RS","t":"Protein complex oligomerization","z":0.3},{"c":"RSP","t":"Protein complex oligomerization","z":0.62},{"c":"Ctrl","t":"Interferon gamma mediated signaling pathway","z":-1.8},{"c":"R","t":"Interferon gamma mediated signaling pathway","z":0.38},{"c":"RP","t":"Interferon gamma mediated signaling pathway","z":0.3},{"c":"RS","t":"Interferon gamma mediated signaling pathway","z":0.5},{"c":"RSP","t":"Interferon gamma mediated signaling pathway","z":0.62},{"c":"Ctrl","t":"Antigen receptor mediated signaling pathway","z":-1.8},{"c":"R","t":"Antigen receptor mediated signaling pathway","z":0.3},{"c":"RP","t":"Antigen receptor mediated signaling pathway","z":0.52},{"c":"RS","t":"Antigen receptor mediated signaling pathway","z":0.28},{"c":"RSP","t":"Antigen receptor mediated signaling pathway","z":0.72},{"c":"Ctrl","t":"T cell differentiation","z":-1.8},{"c":"R","t":"T cell differentiation","z":0.02},{"c":"RP","t":"T cell differentiation","z":0.65},{"c":"RS","t":"T cell differentiation","z":0.65},{"c":"RSP","t":"T cell differentiation","z":0.65},{"c":"Ctrl","t":"Lymphocyte differentiation","z":-1.72},{"c":"R","t":"Lymphocyte differentiation","z":0.02},{"c":"RP","t":"Lymphocyte differentiation","z":0.07},{"c":"RS","t":"Lymphocyte differentiation","z":0.75},{"c":"RSP","t":"Lymphocyte differentiation","z":0.95},{"c":"Ctrl","t":"Immune receptor activity","z":-1.78},{"c":"R","t":"Immune receptor activity","z":0.3},{"c":"RP","t":"Immune receptor activity","z":0.38},{"c":"RS","t":"Immune receptor activity","z":0.5},{"c":"RSP","t":"Immune receptor activity","z":0.6}]},"mark":{"type":"rect"},"encoding":{"x":{"field":"c","type":"nominal","sort":null,"scale":{"paddingInner":0,"paddingOuter":0},"axis":{"orient":"top","title":null,"domain":false,"ticks":false,"labelAngle":0,"labelPadding":3,"labelFont":"Lato","labelFontWeight":"normal","labelFontSize":19}},"y":{"field":"t","type":"nominal","sort":null,"scale":{"paddingInner":0,"paddingOuter":0},"axis":{"orient":"right","title":null,"domain":false,"ticks":false,"labelPadding":25,"labelFont":"Lato","labelFontWeight":"normal","labelFontSize":22.3,"labelLimit":600}},"fill":{"field":"z","type":"quantitative","scale":{"domain":[-1.8,-0.9,0,0.45,0.9,1.8],"range":["#2166ac","#92c5de","#f7f7f7","#fddbc7","#f4a582","#b2182b"]},"legend":null}}}
]},
{"data":{"values":[]},"mark":{"type":"point","opacity":0},"width":1,"height":439},
{"bounds":"flush","spacing":0,"hconcat":[
{"width":223,"height":332,"data":{"values":[{"x":316,"x2":316,"y":0.5,"y2":1.5},{"x":316,"x2":380,"y":0.5,"y2":0.5},{"x":316,"x2":380,"y":1.5,"y2":1.5},{"x":260,"x2":260,"y":1,"y2":2.5},{"x":260,"x2":316,"y":1,"y2":1},{"x":260,"x2":380,"y":2.5,"y2":2.5},{"x":307,"x2":307,"y":3.5,"y2":4.5},{"x":307,"x2":380,"y":3.5,"y2":3.5},{"x":307,"x2":380,"y":4.5,"y2":4.5},{"x":206,"x2":206,"y":4,"y2":5.5},{"x":206,"x2":307,"y":4,"y2":4},{"x":206,"x2":380,"y":5.5,"y2":5.5},{"x":147,"x2":147,"y":1.75,"y2":4.75},{"x":147,"x2":260,"y":1.75,"y2":1.75},{"x":147,"x2":206,"y":4.75,"y2":4.75},{"x":270,"x2":270,"y":6.5,"y2":7.5},{"x":270,"x2":380,"y":6.5,"y2":6.5},{"x":270,"x2":380,"y":7.5,"y2":7.5},{"x":194,"x2":194,"y":7,"y2":8.5},{"x":194,"x2":270,"y":7,"y2":7},{"x":194,"x2":380,"y":8.5,"y2":8.5},{"x":59,"x2":59,"y":7.75,"y2":9.5},{"x":59,"x2":194,"y":7.75,"y2":7.75},{"x":59,"x2":380,"y":9.5,"y2":9.5},{"x":33,"x2":33,"y":3.25,"y2":8.6},{"x":33,"x2":147,"y":3.25,"y2":3.25},{"x":33,"x2":59,"y":8.6,"y2":8.6}]},"mark":{"type":"rule","strokeWidth":1.7,"color":"#111"},"encoding":{"x":{"field":"x","type":"quantitative","scale":{"domain":[30,380],"nice":false,"zero":false},"axis":null},"x2":{"field":"x2"},"y":{"field":"y","type":"quantitative","scale":{"domain":[10,0],"nice":false},"axis":null},"y2":{"field":"y2"}}},
{"data":{"values":[]},"mark":{"type":"point","opacity":0},"width":13,"height":1},
{"width":266,"height":332,"title":{"text":"CD11b⁺CD11c⁺ DC","orient":"bottom","offset":6,"fontSize":18},"data":{"values":[{"c":"Ctrl","t":"Innate immune response","z":-1.8},{"c":"R","t":"Innate immune response","z":0.6},{"c":"RP","t":"Innate immune response","z":0.25},{"c":"RS","t":"Innate immune response","z":0.38},{"c":"RSP","t":"Innate immune response","z":0.65},{"c":"Ctrl","t":"Interferon gamma mediated signaling pathway","z":-1.8},{"c":"R","t":"Interferon gamma mediated signaling pathway","z":0.52},{"c":"RP","t":"Interferon gamma mediated signaling pathway","z":0.35},{"c":"RS","t":"Interferon gamma mediated signaling pathway","z":0.38},{"c":"RSP","t":"Interferon gamma mediated signaling pathway","z":0.55},{"c":"Ctrl","t":"Defense response to other organism","z":-1.8},{"c":"R","t":"Defense response to other organism","z":0.52},{"c":"RP","t":"Defense response to other organism","z":0.35},{"c":"RS","t":"Defense response to other organism","z":0.4},{"c":"RSP","t":"Defense response to other organism","z":0.65},{"c":"Ctrl","t":"Defense response","z":-1.8},{"c":"R","t":"Defense response","z":0.52},{"c":"RP","t":"Defense response","z":0.35},{"c":"RS","t":"Defense response","z":0.4},{"c":"RSP","t":"Defense response","z":0.65},{"c":"Ctrl","t":"Adaptive immune response","z":-1.8},{"c":"R","t":"Adaptive immune response","z":0.52},{"c":"RP","t":"Adaptive immune response","z":0.35},{"c":"RS","t":"Adaptive immune response","z":0.33},{"c":"RSP","t":"Adaptive immune response","z":0.65},{"c":"Ctrl","t":"Response to interferon gamma","z":-1.8},{"c":"R","t":"Response to interferon gamma","z":0.38},{"c":"RP","t":"Response to interferon gamma","z":0.38},{"c":"RS","t":"Response to interferon gamma","z":0.45},{"c":"RSP","t":"Response to interferon gamma","z":0.45},{"c":"Ctrl","t":"Lymphocyte mediated immunity","z":-1.8},{"c":"R","t":"Lymphocyte mediated immunity","z":0.6},{"c":"RP","t":"Lymphocyte mediated immunity","z":0.15},{"c":"RS","t":"Lymphocyte mediated immunity","z":0.4},{"c":"RSP","t":"Lymphocyte mediated immunity","z":0.75},{"c":"Ctrl","t":"Immune effector process","z":-1.8},{"c":"R","t":"Immune effector process","z":0.6},{"c":"RP","t":"Immune effector process","z":0.07},{"c":"RS","t":"Immune effector process","z":0.35},{"c":"RSP","t":"Immune effector process","z":0.8},{"c":"Ctrl","t":"Response to virus","z":-1.72},{"c":"R","t":"Response to virus","z":0.8},{"c":"RP","t":"Response to virus","z":-0.03},{"c":"RS","t":"Response to virus","z":0.35},{"c":"RSP","t":"Response to virus","z":0.8},{"c":"Ctrl","t":"Defense response to virus","z":-1.72},{"c":"R","t":"Defense response to virus","z":0.68},{"c":"RP","t":"Defense response to virus","z":-0.03},{"c":"RS","t":"Defense response to virus","z":0.42},{"c":"RSP","t":"Defense response to virus","z":0.8}]},"mark":{"type":"rect"},"encoding":{"x":{"field":"c","type":"nominal","sort":null,"scale":{"paddingInner":0,"paddingOuter":0},"axis":{"orient":"top","title":null,"domain":false,"ticks":false,"labelAngle":0,"labelPadding":3,"labelFont":"Lato","labelFontWeight":"normal","labelFontSize":19}},"y":{"field":"t","type":"nominal","sort":null,"scale":{"paddingInner":0,"paddingOuter":0},"axis":{"orient":"right","title":null,"domain":false,"ticks":false,"labelPadding":25,"labelFont":"Lato","labelFontWeight":"normal","labelFontSize":22.3,"labelLimit":600}},"fill":{"field":"z","type":"quantitative","scale":{"domain":[-1.8,-0.9,0,0.45,0.9,1.8],"range":["#2166ac","#92c5de","#f7f7f7","#fddbc7","#f4a582","#b2182b"]},"legend":null}}}
]},
{"data":{"values":[]},"mark":{"type":"point","opacity":0},"width":1,"height":448},
{"bounds":"flush","spacing":0,"hconcat":[
{"width":223,"height":329,"data":{"values":[{"x":253,"x2":253,"y":0.5,"y2":1.5},{"x":253,"x2":385,"y":0.5,"y2":0.5},{"x":253,"x2":385,"y":1.5,"y2":1.5},{"x":258,"x2":258,"y":2.5,"y2":3.5},{"x":258,"x2":385,"y":2.5,"y2":2.5},{"x":258,"x2":385,"y":3.5,"y2":3.5},{"x":136,"x2":136,"y":1,"y2":3},{"x":136,"x2":253,"y":1,"y2":1},{"x":136,"x2":258,"y":3,"y2":3},{"x":222,"x2":222,"y":4.5,"y2":5.5},{"x":222,"x2":385,"y":4.5,"y2":4.5},{"x":222,"x2":385,"y":5.5,"y2":5.5},{"x":76,"x2":76,"y":2,"y2":5},{"x":76,"x2":136,"y":2,"y2":2},{"x":76,"x2":222,"y":5,"y2":5},{"x":340,"x2":340,"y":6.5,"y2":7.5},{"x":340,"x2":385,"y":6.5,"y2":6.5},{"x":340,"x2":385,"y":7.5,"y2":7.5},{"x":299,"x2":299,"y":7,"y2":8.5},{"x":299,"x2":340,"y":7,"y2":7},{"x":299,"x2":385,"y":8.5,"y2":8.5},{"x":95,"x2":95,"y":7.75,"y2":9.5},{"x":95,"x2":299,"y":7.75,"y2":7.75},{"x":95,"x2":385,"y":9.5,"y2":9.5},{"x":28,"x2":28,"y":3.5,"y2":8.6},{"x":28,"x2":76,"y":3.5,"y2":3.5},{"x":28,"x2":95,"y":8.6,"y2":8.6}]},"mark":{"type":"rule","strokeWidth":1.7,"color":"#111"},"encoding":{"x":{"field":"x","type":"quantitative","scale":{"domain":[30,380],"nice":false,"zero":false},"axis":null},"x2":{"field":"x2"},"y":{"field":"y","type":"quantitative","scale":{"domain":[10,0],"nice":false},"axis":null},"y2":{"field":"y2"}}},
{"data":{"values":[]},"mark":{"type":"point","opacity":0},"width":13,"height":1},
{"width":266,"height":329,"title":{"text":"CD11b⁺CD11c⁻ myeloid","orient":"bottom","offset":6,"fontSize":18},"data":{"values":[{"c":"Ctrl","t":"Response to biotic stimulus","z":-1.8},{"c":"R","t":"Response to biotic stimulus","z":0.18},{"c":"RP","t":"Response to biotic stimulus","z":0.38},{"c":"RS","t":"Response to biotic stimulus","z":0.45},{"c":"RSP","t":"Response to biotic stimulus","z":0.8},{"c":"Ctrl","t":"Immune effector process","z":-1.8},{"c":"R","t":"Immune effector process","z":0.08},{"c":"RP","t":"Immune effector process","z":0.38},{"c":"RS","t":"Immune effector process","z":0.6},{"c":"RSP","t":"Immune effector process","z":0.8},{"c":"Ctrl","t":"Response to virus","z":-1.8},{"c":"R","t":"Response to virus","z":0.38},{"c":"RP","t":"Response to virus","z":0.15},{"c":"RS","t":"Response to virus","z":0.2},{"c":"RSP","t":"Response to virus","z":1},{"c":"Ctrl","t":"Positive regulation of immune system process","z":-1.8},{"c":"R","t":"Positive regulation of immune system process","z":0.25},{"c":"RP","t":"Positive regulation of immune system process","z":0.3},{"c":"RS","t":"Positive regulation of immune system process","z":0.38},{"c":"RSP","t":"Positive regulation of immune system process","z":0.88},{"c":"Ctrl","t":"Response to interferon gamma","z":-1.8},{"c":"R","t":"Response to interferon gamma","z":0.35},{"c":"RP","t":"Response to interferon gamma","z":0.55},{"c":"RS","t":"Response to interferon gamma","z":0.3},{"c":"RSP","t":"Response to interferon gamma","z":0.55},{"c":"Ctrl","t":"Response to type I interferon","z":-1.8},{"c":"R","t":"Response to type I interferon","z":0.5},{"c":"RP","t":"Response to type I interferon","z":0.35},{"c":"RS","t":"Response to type I interferon","z":0.33},{"c":"RSP","t":"Response to type I interferon","z":0.65},{"c":"Ctrl","t":"Defense response","z":-1.8},{"c":"R","t":"Defense response","z":0.2},{"c":"RP","t":"Defense response","z":0.45},{"c":"RS","t":"Defense response","z":0.55},{"c":"RSP","t":"Defense response","z":0.68},{"c":"Ctrl","t":"Defense response to other organism","z":-1.8},{"c":"R","t":"Defense response to other organism","z":0.2},{"c":"RP","t":"Defense response to other organism","z":0.35},{"c":"RS","t":"Defense response to other organism","z":0.48},{"c":"RSP","t":"Defense response to other organism","z":0.72},{"c":"Ctrl","t":"Innate immune response","z":-1.8},{"c":"R","t":"Innate immune response","z":0.2},{"c":"RP","t":"Innate immune response","z":0.45},{"c":"RS","t":"Innate immune response","z":0.48},{"c":"RSP","t":"Innate immune response","z":0.72},{"c":"Ctrl","t":"Defense response to virus","z":-1.72},{"c":"R","t":"Defense response to virus","z":0.22},{"c":"RP","t":"Defense response to virus","z":0.18},{"c":"RS","t":"Defense response to virus","z":0.3},{"c":"RSP","t":"Defense response to virus","z":1.15}]},"mark":{"type":"rect"},"encoding":{"x":{"field":"c","type":"nominal","sort":null,"scale":{"paddingInner":0,"paddingOuter":0},"axis":{"orient":"top","title":null,"domain":false,"ticks":false,"labelAngle":0,"labelPadding":3,"labelFont":"Lato","labelFontWeight":"normal","labelFontSize":19}},"y":{"field":"t","type":"nominal","sort":null,"scale":{"paddingInner":0,"paddingOuter":0},"axis":{"orient":"right","title":null,"domain":false,"ticks":false,"labelPadding":25,"labelFont":"Lato","labelFontWeight":"normal","labelFontSize":22.3,"labelLimit":600}},"fill":{"field":"z","type":"quantitative","scale":{"domain":[-1.8,-0.9,0,0.45,0.9,1.8],"range":["#2166ac","#92c5de","#f7f7f7","#fddbc7","#f4a582","#b2182b"]},"legend":null}}}
]}
]}
]}
]}
